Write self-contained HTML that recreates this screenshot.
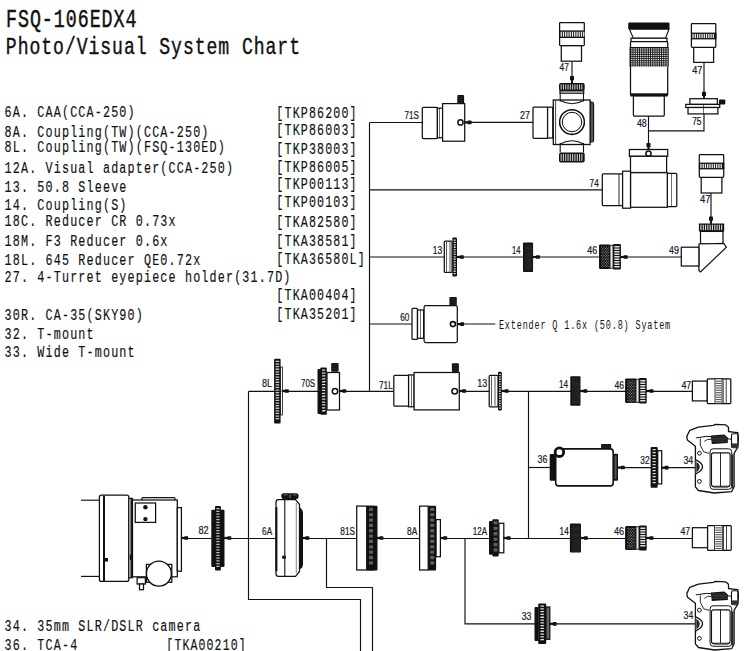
<!DOCTYPE html>
<html><head><meta charset="utf-8"><style>
html,body{margin:0;padding:0;background:#fff;}
body{width:747px;height:651px;overflow:hidden;position:relative;}
svg{position:absolute;left:0;top:0;}
.m{font-family:"Liberation Mono",monospace;fill:#111;}
.l{font-family:"Liberation Sans",sans-serif;fill:#1a1a2a;font-size:10px;}
</style></head><body>
<svg width="747" height="651" viewBox="0 0 747 651">

<text class="m" xml:space="preserve" font-size="24" letter-spacing="1.252" stroke="#111" stroke-width="0.45" transform="translate(5.98,27.2) scale(0.7636,1.1)">FSQ-106EDX4</text>
<text class="m" xml:space="preserve" font-size="24" letter-spacing="1.252" stroke="#111" stroke-width="0.4" transform="translate(5.87,54.3) scale(0.7544,1.02)">Photo/Visual System Chart</text>
<text class="m" xml:space="preserve" font-size="14.5" letter-spacing="1.416" stroke="#111" stroke-width="0.15" transform="translate(4.57,116.6) scale(0.8110,1.1)">6A. CAA(CCA-250)</text>
<text class="m" xml:space="preserve" font-size="14.5" letter-spacing="1.416" stroke="#111" stroke-width="0.15" transform="translate(4.57,136.5) scale(0.8110,1.1)">8A. Coupling(TW)(CCA-250)</text>
<text class="m" xml:space="preserve" font-size="14.5" letter-spacing="1.416" stroke="#111" stroke-width="0.15" transform="translate(4.57,152.3) scale(0.8110,1.1)">8L. Coupling(TW)(FSQ-130ED)</text>
<text class="m" xml:space="preserve" font-size="14.5" letter-spacing="1.416" stroke="#111" stroke-width="0.15" transform="translate(4.57,172.6) scale(0.8110,1.1)">12A. Visual adapter(CCA-250)</text>
<text class="m" xml:space="preserve" font-size="14.5" letter-spacing="1.416" stroke="#111" stroke-width="0.15" transform="translate(4.57,191.8) scale(0.8110,1.1)">13. 50.8 Sleeve</text>
<text class="m" xml:space="preserve" font-size="14.5" letter-spacing="1.416" stroke="#111" stroke-width="0.15" transform="translate(4.57,210.2) scale(0.8110,1.1)">14. Coupling(S)</text>
<text class="m" xml:space="preserve" font-size="14.5" letter-spacing="1.416" stroke="#111" stroke-width="0.15" transform="translate(4.57,225.9) scale(0.8110,1.1)">18C. Reducer CR 0.73x</text>
<text class="m" xml:space="preserve" font-size="14.5" letter-spacing="1.416" stroke="#111" stroke-width="0.15" transform="translate(4.57,246.1) scale(0.8110,1.1)">18M. F3 Reducer 0.6x</text>
<text class="m" xml:space="preserve" font-size="14.5" letter-spacing="1.416" stroke="#111" stroke-width="0.15" transform="translate(4.57,265.3) scale(0.8110,1.1)">18L. 645 Reducer QE0.72x</text>
<text class="m" xml:space="preserve" font-size="14.5" letter-spacing="1.416" stroke="#111" stroke-width="0.15" transform="translate(4.57,282.4) scale(0.8110,1.1)">27. 4-Turret eyepiece holder(31.7D)</text>
<text class="m" xml:space="preserve" font-size="14.5" letter-spacing="1.416" stroke="#111" stroke-width="0.15" transform="translate(4.57,319.7) scale(0.8110,1.1)">30R. CA-35(SKY90)</text>
<text class="m" xml:space="preserve" font-size="14.5" letter-spacing="1.416" stroke="#111" stroke-width="0.15" transform="translate(4.57,338.5) scale(0.8110,1.1)">32. T-mount</text>
<text class="m" xml:space="preserve" font-size="14.5" letter-spacing="1.416" stroke="#111" stroke-width="0.15" transform="translate(4.57,356.7) scale(0.8110,1.1)">33. Wide T-mount</text>
<text class="m" xml:space="preserve" font-size="14.5" letter-spacing="1.416" stroke="#111" stroke-width="0.15" transform="translate(4.57,630.6) scale(0.8110,1.1)">34. 35mm SLR/DSLR camera</text>
<text class="m" xml:space="preserve" font-size="14.5" letter-spacing="1.416" stroke="#111" stroke-width="0.15" transform="translate(4.57,649.8) scale(0.8110,1.1)">36. TCA-4</text>
<text class="m" xml:space="preserve" font-size="14.5" letter-spacing="1.416" stroke="#111" stroke-width="0.15" transform="translate(276.37,118.4) scale(0.8041,1.1)">[TKP86200]</text>
<text class="m" xml:space="preserve" font-size="14.5" letter-spacing="1.416" stroke="#111" stroke-width="0.15" transform="translate(276.37,135.4) scale(0.8041,1.1)">[TKP86003]</text>
<text class="m" xml:space="preserve" font-size="14.5" letter-spacing="1.416" stroke="#111" stroke-width="0.15" transform="translate(276.37,153.5) scale(0.8041,1.1)">[TKP38003]</text>
<text class="m" xml:space="preserve" font-size="14.5" letter-spacing="1.416" stroke="#111" stroke-width="0.15" transform="translate(276.37,171.9) scale(0.8041,1.1)">[TKP86005]</text>
<text class="m" xml:space="preserve" font-size="14.5" letter-spacing="1.416" stroke="#111" stroke-width="0.15" transform="translate(276.37,189.4) scale(0.8041,1.1)">[TKP00113]</text>
<text class="m" xml:space="preserve" font-size="14.5" letter-spacing="1.416" stroke="#111" stroke-width="0.15" transform="translate(276.37,206.9) scale(0.8041,1.1)">[TKP00103]</text>
<text class="m" xml:space="preserve" font-size="14.5" letter-spacing="1.416" stroke="#111" stroke-width="0.15" transform="translate(276.37,227) scale(0.8041,1.1)">[TKA82580]</text>
<text class="m" xml:space="preserve" font-size="14.5" letter-spacing="1.416" stroke="#111" stroke-width="0.15" transform="translate(276.37,245.5) scale(0.8041,1.1)">[TKA38581]</text>
<text class="m" xml:space="preserve" font-size="14.5" letter-spacing="1.416" stroke="#111" stroke-width="0.15" transform="translate(276.37,264.3) scale(0.8041,1.1)">[TKA36580L]</text>
<text class="m" xml:space="preserve" font-size="14.5" letter-spacing="1.416" stroke="#111" stroke-width="0.15" transform="translate(276.37,300.2) scale(0.8041,1.1)">[TKA00404]</text>
<text class="m" xml:space="preserve" font-size="14.5" letter-spacing="1.416" stroke="#111" stroke-width="0.15" transform="translate(276.37,319.2) scale(0.8041,1.1)">[TKA35201]</text>
<text class="m" xml:space="preserve" font-size="14.5" letter-spacing="1.416" stroke="#111" stroke-width="0.15" transform="translate(166.36,649.8) scale(0.7955,1.1)">[TKA00210]</text>
<text class="m" xml:space="preserve" font-size="12.2" letter-spacing="1.192" stroke="#111" stroke-width="0.0" transform="translate(498.92,329.1) scale(0.6983,1.05)">Extender Q 1.6x (50.8) Syatem</text>
<path d="M369.5,122.5 L369.5,391.4" fill="none" stroke="#111" stroke-width="1.15"/>
<path d="M369.5,122.5 L422.3,122.5" fill="none" stroke="#111" stroke-width="1.15"/>
<path d="M464.7,122.4 L533,122.4" fill="none" stroke="#111" stroke-width="1.15"/>
<path d="M572,61.2 L572,82" fill="none" stroke="#111" stroke-width="1.15"/>
<path d="M648.5,116 L648.5,149" fill="none" stroke="#111" stroke-width="1.15"/>
<path d="M648.5,130.8 L704,130.8 L704,113.9" fill="none" stroke="#111" stroke-width="1.15"/>
<path d="M704,62.4 L704,98.7" fill="none" stroke="#111" stroke-width="1.15"/>
<path d="M369.5,189.8 L602.3,189.8" fill="none" stroke="#111" stroke-width="1.15"/>
<path d="M711,193 L711,223.5" fill="none" stroke="#111" stroke-width="1.15"/>
<path d="M369.5,257 L444.3,257" fill="none" stroke="#111" stroke-width="1.15"/>
<path d="M457,257 L523,257" fill="none" stroke="#111" stroke-width="1.15"/>
<path d="M533,257 L599,257" fill="none" stroke="#111" stroke-width="1.15"/>
<path d="M620.9,257 L681.3,257" fill="none" stroke="#111" stroke-width="1.15"/>
<path d="M369.5,324 L412,324" fill="none" stroke="#111" stroke-width="1.15"/>
<path d="M457.3,324 L495.3,324" fill="none" stroke="#111" stroke-width="1.15"/>
<path d="M248.5,391.4 L393.8,391.4" fill="none" stroke="#111" stroke-width="1.15"/>
<path d="M459.3,391.4 L692.4,391.4" fill="none" stroke="#111" stroke-width="1.15"/>
<path d="M248.5,391.4 L248.5,599.5 L360.5,599.5 L360.5,652" fill="none" stroke="#111" stroke-width="1.15"/>
<path d="M528.5,391.4 L528.5,538.5" fill="none" stroke="#111" stroke-width="1.15"/>
<path d="M528.5,467.5 L549.7,467.5" fill="none" stroke="#111" stroke-width="1.15"/>
<path d="M618,467.6 L695,467.6" fill="none" stroke="#111" stroke-width="1.15"/>
<path d="M181.4,538.5 L692.4,538.5" fill="none" stroke="#111" stroke-width="1.15"/>
<path d="M326.5,538.5 L326.5,587.5 L372.5,587.5 L372.5,652" fill="none" stroke="#111" stroke-width="1.15"/>
<path d="M465,538.5 L465,623.8 L695,623.8" fill="none" stroke="#111" stroke-width="1.15"/>
<path d="M81,500.2 L99.4,500.2" fill="none" stroke="#111" stroke-width="1.15"/>
<path d="M81,576.4 L99.4,576.4" fill="none" stroke="#111" stroke-width="1.15"/>
<rect x="422.3" y="107.3" width="15.10" height="31.30" rx="1" fill="#fff" stroke="#111" stroke-width="1.25"/>
<rect x="437.4" y="108.2" width="5.20" height="29.60" rx="0" fill="#fff" stroke="#111" stroke-width="1.25"/>
<path d="M439.5,108.2 V137.8" stroke="#111" stroke-width="0.6" fill="none"/>
<rect x="442.6" y="103.6" width="22.10" height="37.60" rx="0" fill="#fff" stroke="#111" stroke-width="1.25"/>
<rect x="457.3" y="95" width="6.80" height="9.00" rx="1" fill="#111"/>
<rect x="458.10" y="96.50" width="5.20" height="0.6" fill="#333"/>
<rect x="458.10" y="98.30" width="5.20" height="0.6" fill="#333"/>
<rect x="458.10" y="100.10" width="5.20" height="0.6" fill="#333"/>
<rect x="458.10" y="101.90" width="5.20" height="0.6" fill="#333"/>
<circle cx="460.5" cy="122.4" r="2.6" fill="#fff" stroke="#111" stroke-width="1.5"/>
<rect x="464.40" y="121.30" width="3.8" height="2.2" fill="#111"/><rect x="467.60" y="120.55" width="3.9" height="3.7" rx="0.6" fill="#111"/>
<rect x="533" y="107" width="14.60" height="31.30" rx="1" fill="#fff" stroke="#111" stroke-width="1.25"/>
<rect x="547.6" y="107.2" width="5.20" height="30.80" rx="0" fill="#fff" stroke="#111" stroke-width="1.25"/>
<rect x="559" y="83" width="25.70" height="7.90" rx="2" fill="#111"/>
<rect x="560.60" y="84.40" width="1.1" height="5.10" fill="#c8c8c8"/>
<rect x="562.90" y="84.40" width="1.1" height="5.10" fill="#c8c8c8"/>
<rect x="565.20" y="84.40" width="1.1" height="5.10" fill="#c8c8c8"/>
<rect x="567.50" y="84.40" width="1.1" height="5.10" fill="#c8c8c8"/>
<rect x="569.80" y="84.40" width="1.1" height="5.10" fill="#c8c8c8"/>
<rect x="572.10" y="84.40" width="1.1" height="5.10" fill="#c8c8c8"/>
<rect x="574.40" y="84.40" width="1.1" height="5.10" fill="#c8c8c8"/>
<rect x="576.70" y="84.40" width="1.1" height="5.10" fill="#c8c8c8"/>
<rect x="579.00" y="84.40" width="1.1" height="5.10" fill="#c8c8c8"/>
<rect x="581.30" y="84.40" width="1.1" height="5.10" fill="#c8c8c8"/>
<rect x="560" y="90.9" width="23.70" height="2.30" rx="0" fill="#fff" stroke="#111" stroke-width="1.25"/>
<rect x="559" y="152.6" width="25.70" height="9.80" rx="2" fill="#111"/>
<rect x="560.60" y="154.00" width="1.1" height="7.00" fill="#c8c8c8"/>
<rect x="562.90" y="154.00" width="1.1" height="7.00" fill="#c8c8c8"/>
<rect x="565.20" y="154.00" width="1.1" height="7.00" fill="#c8c8c8"/>
<rect x="567.50" y="154.00" width="1.1" height="7.00" fill="#c8c8c8"/>
<rect x="569.80" y="154.00" width="1.1" height="7.00" fill="#c8c8c8"/>
<rect x="572.10" y="154.00" width="1.1" height="7.00" fill="#c8c8c8"/>
<rect x="574.40" y="154.00" width="1.1" height="7.00" fill="#c8c8c8"/>
<rect x="576.70" y="154.00" width="1.1" height="7.00" fill="#c8c8c8"/>
<rect x="579.00" y="154.00" width="1.1" height="7.00" fill="#c8c8c8"/>
<rect x="581.30" y="154.00" width="1.1" height="7.00" fill="#c8c8c8"/>
<path d="M590.1,102 H592 Q593.6,102 593.6,104 V140 Q593.6,142 592,142 H590.1 Z" fill="#555" stroke="#111" stroke-width="1.1"/>
<rect x="553.3" y="100" width="36.80" height="44.50" rx="0" fill="#fff" stroke="#111" stroke-width="1.3"/>
<path d="M555.6,100.5 V144" stroke="#111" stroke-width="0.8" fill="none"/>
<path d="M560.2,93.2 V101.5" stroke="#111" stroke-width="1.1" fill="none"/>
<path d="M583.5,93.2 V101.5" stroke="#111" stroke-width="1.1" fill="none"/>
<path d="M560.2,143 V152.6" stroke="#111" stroke-width="1.1" fill="none"/>
<path d="M583.5,143 V152.6" stroke="#111" stroke-width="1.1" fill="none"/>
<path d="M560.2,100.5 Q572,107 583.5,100.5" fill="none" stroke="#111" stroke-width="1.1"/>
<path d="M560.2,144 Q572,137.5 583.5,144" fill="none" stroke="#111" stroke-width="1.1"/>
<circle cx="572" cy="122" r="12.35" fill="#fff" stroke="#111" stroke-width="1.55"/>
<circle cx="572" cy="122" r="9.7" fill="#fff" stroke="#111" stroke-width="1.0"/>
<rect x="561.3" y="45.5" width="20.20" height="15.70" rx="0" fill="#fff" stroke="#111" stroke-width="1.25"/>
<rect x="559.6" y="22.5" width="24.70" height="23.00" rx="0.8" fill="#fff" stroke="#111" stroke-width="1.25"/>
<rect x="559.2" y="30.4" width="25.70" height="7.60" rx="0" fill="#111"/>
<rect x="560.60" y="31.70" width="1.3" height="5.00" fill="#f0f0f0"/>
<rect x="562.85" y="31.70" width="1.3" height="5.00" fill="#f0f0f0"/>
<rect x="565.10" y="31.70" width="1.3" height="5.00" fill="#f0f0f0"/>
<rect x="567.35" y="31.70" width="1.3" height="5.00" fill="#f0f0f0"/>
<rect x="569.60" y="31.70" width="1.3" height="5.00" fill="#f0f0f0"/>
<rect x="571.85" y="31.70" width="1.3" height="5.00" fill="#f0f0f0"/>
<rect x="574.10" y="31.70" width="1.3" height="5.00" fill="#f0f0f0"/>
<rect x="576.35" y="31.70" width="1.3" height="5.00" fill="#f0f0f0"/>
<rect x="578.60" y="31.70" width="1.3" height="5.00" fill="#f0f0f0"/>
<rect x="580.85" y="31.70" width="1.3" height="5.00" fill="#f0f0f0"/>
<rect x="583.10" y="31.70" width="1.3" height="5.00" fill="#f0f0f0"/>
<rect x="571.00" y="80.20" width="2.0" height="3.0" fill="#111"/><rect x="570.00" y="76.10" width="4" height="4.2" rx="0.6" fill="#111"/>
<rect x="628.2" y="22.4" width="41.30" height="6.80" rx="1" fill="#111"/>
<path d="M629.5,29.2 L633.4,38.2 H665.5 L669,29.2 Z" fill="#fff" stroke="#111" stroke-width="1.1"/>
<rect x="631" y="38.2" width="36.00" height="3.40" rx="0" fill="#fff" stroke="#111" stroke-width="1.25"/>
<rect x="633.4" y="95.5" width="30.90" height="20.60" rx="1" fill="#fff" stroke="#111" stroke-width="1.25"/>
<rect x="630.5" y="41.6" width="37.20" height="53.70" rx="1" fill="#fff" stroke="#111" stroke-width="1.25"/>
<rect x="629.6" y="47.0" width="39.00" height="19.60" rx="0" fill="#111"/>
<rect x="631.2" y="48.3" width="1.3" height="1.3" fill="#f2f2f2"/>
<rect x="633.4" y="48.3" width="1.3" height="1.3" fill="#f2f2f2"/>
<rect x="635.6" y="48.3" width="1.3" height="1.3" fill="#f2f2f2"/>
<rect x="637.8" y="48.3" width="1.3" height="1.3" fill="#f2f2f2"/>
<rect x="640.0" y="48.3" width="1.3" height="1.3" fill="#f2f2f2"/>
<rect x="642.2" y="48.3" width="1.3" height="1.3" fill="#f2f2f2"/>
<rect x="644.4" y="48.3" width="1.3" height="1.3" fill="#f2f2f2"/>
<rect x="646.6" y="48.3" width="1.3" height="1.3" fill="#f2f2f2"/>
<rect x="648.8" y="48.3" width="1.3" height="1.3" fill="#f2f2f2"/>
<rect x="651.0" y="48.3" width="1.3" height="1.3" fill="#f2f2f2"/>
<rect x="653.2" y="48.3" width="1.3" height="1.3" fill="#f2f2f2"/>
<rect x="655.4" y="48.3" width="1.3" height="1.3" fill="#f2f2f2"/>
<rect x="657.6" y="48.3" width="1.3" height="1.3" fill="#f2f2f2"/>
<rect x="659.8" y="48.3" width="1.3" height="1.3" fill="#f2f2f2"/>
<rect x="662.0" y="48.3" width="1.3" height="1.3" fill="#f2f2f2"/>
<rect x="664.2" y="48.3" width="1.3" height="1.3" fill="#f2f2f2"/>
<rect x="666.4" y="48.3" width="1.3" height="1.3" fill="#f2f2f2"/>
<rect x="631.2" y="50.4" width="1.3" height="1.3" fill="#f2f2f2"/>
<rect x="633.4" y="50.4" width="1.3" height="1.3" fill="#f2f2f2"/>
<rect x="635.6" y="50.4" width="1.3" height="1.3" fill="#f2f2f2"/>
<rect x="637.8" y="50.4" width="1.3" height="1.3" fill="#f2f2f2"/>
<rect x="640.0" y="50.4" width="1.3" height="1.3" fill="#f2f2f2"/>
<rect x="642.2" y="50.4" width="1.3" height="1.3" fill="#f2f2f2"/>
<rect x="644.4" y="50.4" width="1.3" height="1.3" fill="#f2f2f2"/>
<rect x="646.6" y="50.4" width="1.3" height="1.3" fill="#f2f2f2"/>
<rect x="648.8" y="50.4" width="1.3" height="1.3" fill="#f2f2f2"/>
<rect x="651.0" y="50.4" width="1.3" height="1.3" fill="#f2f2f2"/>
<rect x="653.2" y="50.4" width="1.3" height="1.3" fill="#f2f2f2"/>
<rect x="655.4" y="50.4" width="1.3" height="1.3" fill="#f2f2f2"/>
<rect x="657.6" y="50.4" width="1.3" height="1.3" fill="#f2f2f2"/>
<rect x="659.8" y="50.4" width="1.3" height="1.3" fill="#f2f2f2"/>
<rect x="662.0" y="50.4" width="1.3" height="1.3" fill="#f2f2f2"/>
<rect x="664.2" y="50.4" width="1.3" height="1.3" fill="#f2f2f2"/>
<rect x="666.4" y="50.4" width="1.3" height="1.3" fill="#f2f2f2"/>
<rect x="631.2" y="52.6" width="1.3" height="1.3" fill="#f2f2f2"/>
<rect x="633.4" y="52.6" width="1.3" height="1.3" fill="#f2f2f2"/>
<rect x="635.6" y="52.6" width="1.3" height="1.3" fill="#f2f2f2"/>
<rect x="637.8" y="52.6" width="1.3" height="1.3" fill="#f2f2f2"/>
<rect x="640.0" y="52.6" width="1.3" height="1.3" fill="#f2f2f2"/>
<rect x="642.2" y="52.6" width="1.3" height="1.3" fill="#f2f2f2"/>
<rect x="644.4" y="52.6" width="1.3" height="1.3" fill="#f2f2f2"/>
<rect x="646.6" y="52.6" width="1.3" height="1.3" fill="#f2f2f2"/>
<rect x="648.8" y="52.6" width="1.3" height="1.3" fill="#f2f2f2"/>
<rect x="651.0" y="52.6" width="1.3" height="1.3" fill="#f2f2f2"/>
<rect x="653.2" y="52.6" width="1.3" height="1.3" fill="#f2f2f2"/>
<rect x="655.4" y="52.6" width="1.3" height="1.3" fill="#f2f2f2"/>
<rect x="657.6" y="52.6" width="1.3" height="1.3" fill="#f2f2f2"/>
<rect x="659.8" y="52.6" width="1.3" height="1.3" fill="#f2f2f2"/>
<rect x="662.0" y="52.6" width="1.3" height="1.3" fill="#f2f2f2"/>
<rect x="664.2" y="52.6" width="1.3" height="1.3" fill="#f2f2f2"/>
<rect x="666.4" y="52.6" width="1.3" height="1.3" fill="#f2f2f2"/>
<rect x="631.2" y="54.8" width="1.3" height="1.3" fill="#f2f2f2"/>
<rect x="633.4" y="54.8" width="1.3" height="1.3" fill="#f2f2f2"/>
<rect x="635.6" y="54.8" width="1.3" height="1.3" fill="#f2f2f2"/>
<rect x="637.8" y="54.8" width="1.3" height="1.3" fill="#f2f2f2"/>
<rect x="640.0" y="54.8" width="1.3" height="1.3" fill="#f2f2f2"/>
<rect x="642.2" y="54.8" width="1.3" height="1.3" fill="#f2f2f2"/>
<rect x="644.4" y="54.8" width="1.3" height="1.3" fill="#f2f2f2"/>
<rect x="646.6" y="54.8" width="1.3" height="1.3" fill="#f2f2f2"/>
<rect x="648.8" y="54.8" width="1.3" height="1.3" fill="#f2f2f2"/>
<rect x="651.0" y="54.8" width="1.3" height="1.3" fill="#f2f2f2"/>
<rect x="653.2" y="54.8" width="1.3" height="1.3" fill="#f2f2f2"/>
<rect x="655.4" y="54.8" width="1.3" height="1.3" fill="#f2f2f2"/>
<rect x="657.6" y="54.8" width="1.3" height="1.3" fill="#f2f2f2"/>
<rect x="659.8" y="54.8" width="1.3" height="1.3" fill="#f2f2f2"/>
<rect x="662.0" y="54.8" width="1.3" height="1.3" fill="#f2f2f2"/>
<rect x="664.2" y="54.8" width="1.3" height="1.3" fill="#f2f2f2"/>
<rect x="666.4" y="54.8" width="1.3" height="1.3" fill="#f2f2f2"/>
<rect x="631.2" y="56.9" width="1.3" height="1.3" fill="#f2f2f2"/>
<rect x="633.4" y="56.9" width="1.3" height="1.3" fill="#f2f2f2"/>
<rect x="635.6" y="56.9" width="1.3" height="1.3" fill="#f2f2f2"/>
<rect x="637.8" y="56.9" width="1.3" height="1.3" fill="#f2f2f2"/>
<rect x="640.0" y="56.9" width="1.3" height="1.3" fill="#f2f2f2"/>
<rect x="642.2" y="56.9" width="1.3" height="1.3" fill="#f2f2f2"/>
<rect x="644.4" y="56.9" width="1.3" height="1.3" fill="#f2f2f2"/>
<rect x="646.6" y="56.9" width="1.3" height="1.3" fill="#f2f2f2"/>
<rect x="648.8" y="56.9" width="1.3" height="1.3" fill="#f2f2f2"/>
<rect x="651.0" y="56.9" width="1.3" height="1.3" fill="#f2f2f2"/>
<rect x="653.2" y="56.9" width="1.3" height="1.3" fill="#f2f2f2"/>
<rect x="655.4" y="56.9" width="1.3" height="1.3" fill="#f2f2f2"/>
<rect x="657.6" y="56.9" width="1.3" height="1.3" fill="#f2f2f2"/>
<rect x="659.8" y="56.9" width="1.3" height="1.3" fill="#f2f2f2"/>
<rect x="662.0" y="56.9" width="1.3" height="1.3" fill="#f2f2f2"/>
<rect x="664.2" y="56.9" width="1.3" height="1.3" fill="#f2f2f2"/>
<rect x="666.4" y="56.9" width="1.3" height="1.3" fill="#f2f2f2"/>
<rect x="631.2" y="59.0" width="1.3" height="1.3" fill="#f2f2f2"/>
<rect x="633.4" y="59.0" width="1.3" height="1.3" fill="#f2f2f2"/>
<rect x="635.6" y="59.0" width="1.3" height="1.3" fill="#f2f2f2"/>
<rect x="637.8" y="59.0" width="1.3" height="1.3" fill="#f2f2f2"/>
<rect x="640.0" y="59.0" width="1.3" height="1.3" fill="#f2f2f2"/>
<rect x="642.2" y="59.0" width="1.3" height="1.3" fill="#f2f2f2"/>
<rect x="644.4" y="59.0" width="1.3" height="1.3" fill="#f2f2f2"/>
<rect x="646.6" y="59.0" width="1.3" height="1.3" fill="#f2f2f2"/>
<rect x="648.8" y="59.0" width="1.3" height="1.3" fill="#f2f2f2"/>
<rect x="651.0" y="59.0" width="1.3" height="1.3" fill="#f2f2f2"/>
<rect x="653.2" y="59.0" width="1.3" height="1.3" fill="#f2f2f2"/>
<rect x="655.4" y="59.0" width="1.3" height="1.3" fill="#f2f2f2"/>
<rect x="657.6" y="59.0" width="1.3" height="1.3" fill="#f2f2f2"/>
<rect x="659.8" y="59.0" width="1.3" height="1.3" fill="#f2f2f2"/>
<rect x="662.0" y="59.0" width="1.3" height="1.3" fill="#f2f2f2"/>
<rect x="664.2" y="59.0" width="1.3" height="1.3" fill="#f2f2f2"/>
<rect x="666.4" y="59.0" width="1.3" height="1.3" fill="#f2f2f2"/>
<rect x="631.2" y="61.2" width="1.3" height="1.3" fill="#f2f2f2"/>
<rect x="633.4" y="61.2" width="1.3" height="1.3" fill="#f2f2f2"/>
<rect x="635.6" y="61.2" width="1.3" height="1.3" fill="#f2f2f2"/>
<rect x="637.8" y="61.2" width="1.3" height="1.3" fill="#f2f2f2"/>
<rect x="640.0" y="61.2" width="1.3" height="1.3" fill="#f2f2f2"/>
<rect x="642.2" y="61.2" width="1.3" height="1.3" fill="#f2f2f2"/>
<rect x="644.4" y="61.2" width="1.3" height="1.3" fill="#f2f2f2"/>
<rect x="646.6" y="61.2" width="1.3" height="1.3" fill="#f2f2f2"/>
<rect x="648.8" y="61.2" width="1.3" height="1.3" fill="#f2f2f2"/>
<rect x="651.0" y="61.2" width="1.3" height="1.3" fill="#f2f2f2"/>
<rect x="653.2" y="61.2" width="1.3" height="1.3" fill="#f2f2f2"/>
<rect x="655.4" y="61.2" width="1.3" height="1.3" fill="#f2f2f2"/>
<rect x="657.6" y="61.2" width="1.3" height="1.3" fill="#f2f2f2"/>
<rect x="659.8" y="61.2" width="1.3" height="1.3" fill="#f2f2f2"/>
<rect x="662.0" y="61.2" width="1.3" height="1.3" fill="#f2f2f2"/>
<rect x="664.2" y="61.2" width="1.3" height="1.3" fill="#f2f2f2"/>
<rect x="666.4" y="61.2" width="1.3" height="1.3" fill="#f2f2f2"/>
<rect x="631.2" y="63.3" width="1.3" height="1.3" fill="#f2f2f2"/>
<rect x="633.4" y="63.3" width="1.3" height="1.3" fill="#f2f2f2"/>
<rect x="635.6" y="63.3" width="1.3" height="1.3" fill="#f2f2f2"/>
<rect x="637.8" y="63.3" width="1.3" height="1.3" fill="#f2f2f2"/>
<rect x="640.0" y="63.3" width="1.3" height="1.3" fill="#f2f2f2"/>
<rect x="642.2" y="63.3" width="1.3" height="1.3" fill="#f2f2f2"/>
<rect x="644.4" y="63.3" width="1.3" height="1.3" fill="#f2f2f2"/>
<rect x="646.6" y="63.3" width="1.3" height="1.3" fill="#f2f2f2"/>
<rect x="648.8" y="63.3" width="1.3" height="1.3" fill="#f2f2f2"/>
<rect x="651.0" y="63.3" width="1.3" height="1.3" fill="#f2f2f2"/>
<rect x="653.2" y="63.3" width="1.3" height="1.3" fill="#f2f2f2"/>
<rect x="655.4" y="63.3" width="1.3" height="1.3" fill="#f2f2f2"/>
<rect x="657.6" y="63.3" width="1.3" height="1.3" fill="#f2f2f2"/>
<rect x="659.8" y="63.3" width="1.3" height="1.3" fill="#f2f2f2"/>
<rect x="662.0" y="63.3" width="1.3" height="1.3" fill="#f2f2f2"/>
<rect x="664.2" y="63.3" width="1.3" height="1.3" fill="#f2f2f2"/>
<rect x="666.4" y="63.3" width="1.3" height="1.3" fill="#f2f2f2"/>
<rect x="631.2" y="65.5" width="1.3" height="1.3" fill="#f2f2f2"/>
<rect x="633.4" y="65.5" width="1.3" height="1.3" fill="#f2f2f2"/>
<rect x="635.6" y="65.5" width="1.3" height="1.3" fill="#f2f2f2"/>
<rect x="637.8" y="65.5" width="1.3" height="1.3" fill="#f2f2f2"/>
<rect x="640.0" y="65.5" width="1.3" height="1.3" fill="#f2f2f2"/>
<rect x="642.2" y="65.5" width="1.3" height="1.3" fill="#f2f2f2"/>
<rect x="644.4" y="65.5" width="1.3" height="1.3" fill="#f2f2f2"/>
<rect x="646.6" y="65.5" width="1.3" height="1.3" fill="#f2f2f2"/>
<rect x="648.8" y="65.5" width="1.3" height="1.3" fill="#f2f2f2"/>
<rect x="651.0" y="65.5" width="1.3" height="1.3" fill="#f2f2f2"/>
<rect x="653.2" y="65.5" width="1.3" height="1.3" fill="#f2f2f2"/>
<rect x="655.4" y="65.5" width="1.3" height="1.3" fill="#f2f2f2"/>
<rect x="657.6" y="65.5" width="1.3" height="1.3" fill="#f2f2f2"/>
<rect x="659.8" y="65.5" width="1.3" height="1.3" fill="#f2f2f2"/>
<rect x="662.0" y="65.5" width="1.3" height="1.3" fill="#f2f2f2"/>
<rect x="664.2" y="65.5" width="1.3" height="1.3" fill="#f2f2f2"/>
<rect x="666.4" y="65.5" width="1.3" height="1.3" fill="#f2f2f2"/>
<rect x="630.5" y="93.3" width="37.20" height="3.20" rx="0" fill="#111"/>
<rect x="647.50" y="147.20" width="2.0" height="3.0" fill="#111"/><rect x="646.50" y="143.10" width="4" height="4.2" rx="0.6" fill="#111"/>
<rect x="693.7" y="47.3" width="19.90" height="15.10" rx="0" fill="#fff" stroke="#111" stroke-width="1.25"/>
<rect x="691.4" y="23.5" width="24.40" height="23.80" rx="0.8" fill="#fff" stroke="#111" stroke-width="1.25"/>
<rect x="691.0" y="32.6" width="25.40" height="6.80" rx="0" fill="#111"/>
<rect x="692.40" y="33.90" width="1.3" height="4.20" fill="#f0f0f0"/>
<rect x="694.65" y="33.90" width="1.3" height="4.20" fill="#f0f0f0"/>
<rect x="696.90" y="33.90" width="1.3" height="4.20" fill="#f0f0f0"/>
<rect x="699.15" y="33.90" width="1.3" height="4.20" fill="#f0f0f0"/>
<rect x="701.40" y="33.90" width="1.3" height="4.20" fill="#f0f0f0"/>
<rect x="703.65" y="33.90" width="1.3" height="4.20" fill="#f0f0f0"/>
<rect x="705.90" y="33.90" width="1.3" height="4.20" fill="#f0f0f0"/>
<rect x="708.15" y="33.90" width="1.3" height="4.20" fill="#f0f0f0"/>
<rect x="710.40" y="33.90" width="1.3" height="4.20" fill="#f0f0f0"/>
<rect x="712.65" y="33.90" width="1.3" height="4.20" fill="#f0f0f0"/>
<rect x="703.00" y="95.90" width="2.0" height="3.0" fill="#111"/><rect x="702.00" y="91.80" width="4" height="4.2" rx="0.6" fill="#111"/>
<rect x="689.9" y="98.7" width="27.50" height="5.70" rx="0" fill="#fff" stroke="#111" stroke-width="1.25"/>
<rect x="685.8" y="104.4" width="33.90" height="3.10" rx="0" fill="#fff" stroke="#111" stroke-width="1.25"/>
<rect x="688" y="107.5" width="29.90" height="6.40" rx="0" fill="#fff" stroke="#111" stroke-width="1.25"/>
<path d="M703.5,104.4 V113.9" stroke="#111" stroke-width="0.6" fill="none"/>
<rect x="719" y="99.5" width="6.30" height="4.90" rx="1" fill="#111"/>
<rect x="602.3" y="173.9" width="20.30" height="31.60" rx="1" fill="#fff" stroke="#111" stroke-width="1.25"/>
<path d="M619,174 V205.5" stroke="#111" stroke-width="0.9" fill="none"/>
<rect x="629.4" y="149.5" width="38.30" height="6.80" rx="0" fill="#fff" stroke="#111" stroke-width="1.25"/>
<rect x="630.5" y="156.3" width="36.10" height="16.20" rx="0" fill="#fff" stroke="#111" stroke-width="1.25"/>
<rect x="667.3" y="173.4" width="9.50" height="33.20" rx="1" fill="#fff" stroke="#111" stroke-width="1.25"/>
<path d="M671.5,173.4 V206.6" stroke="#111" stroke-width="0.6" fill="none"/>
<rect x="630.5" y="172.7" width="36.80" height="34.60" rx="0" fill="#fff" stroke="#111" stroke-width="1.25"/>
<rect x="622.6" y="171.2" width="7.90" height="37.00" rx="0" fill="#fff" stroke="#111" stroke-width="1.25"/>
<circle cx="648.5" cy="153.5" r="2.6" fill="#fff" stroke="#111" stroke-width="1.5"/>
<rect x="701.2" y="177.3" width="20.70" height="15.70" rx="0" fill="#fff" stroke="#111" stroke-width="1.25"/>
<rect x="699.3" y="154.7" width="24.40" height="22.60" rx="0.8" fill="#fff" stroke="#111" stroke-width="1.25"/>
<rect x="698.9" y="162.6" width="25.40" height="6.80" rx="0" fill="#111"/>
<rect x="700.30" y="163.90" width="1.3" height="4.20" fill="#f0f0f0"/>
<rect x="702.55" y="163.90" width="1.3" height="4.20" fill="#f0f0f0"/>
<rect x="704.80" y="163.90" width="1.3" height="4.20" fill="#f0f0f0"/>
<rect x="707.05" y="163.90" width="1.3" height="4.20" fill="#f0f0f0"/>
<rect x="709.30" y="163.90" width="1.3" height="4.20" fill="#f0f0f0"/>
<rect x="711.55" y="163.90" width="1.3" height="4.20" fill="#f0f0f0"/>
<rect x="713.80" y="163.90" width="1.3" height="4.20" fill="#f0f0f0"/>
<rect x="716.05" y="163.90" width="1.3" height="4.20" fill="#f0f0f0"/>
<rect x="718.30" y="163.90" width="1.3" height="4.20" fill="#f0f0f0"/>
<rect x="720.55" y="163.90" width="1.3" height="4.20" fill="#f0f0f0"/>
<rect x="710.00" y="220.70" width="2.0" height="3.0" fill="#111"/><rect x="709.00" y="216.60" width="4" height="4.2" rx="0.6" fill="#111"/>
<rect x="698.9" y="223.5" width="25.30" height="7.90" rx="0" fill="#111"/>
<rect x="700.40" y="224.70" width="1.1" height="5.50" fill="#ddd"/>
<rect x="702.70" y="224.70" width="1.1" height="5.50" fill="#ddd"/>
<rect x="705.00" y="224.70" width="1.1" height="5.50" fill="#ddd"/>
<rect x="707.30" y="224.70" width="1.1" height="5.50" fill="#ddd"/>
<rect x="709.60" y="224.70" width="1.1" height="5.50" fill="#ddd"/>
<rect x="711.90" y="224.70" width="1.1" height="5.50" fill="#ddd"/>
<rect x="714.20" y="224.70" width="1.1" height="5.50" fill="#ddd"/>
<rect x="716.50" y="224.70" width="1.1" height="5.50" fill="#ddd"/>
<rect x="718.80" y="224.70" width="1.1" height="5.50" fill="#ddd"/>
<rect x="721.10" y="224.70" width="1.1" height="5.50" fill="#ddd"/>
<rect x="700.5" y="231.4" width="22.50" height="12.50" rx="0" fill="#fff" stroke="#111" stroke-width="1.25"/>
<path d="M698.9,244 L723.7,243.4 L726.4,247.2 L700.5,272 L698.9,270.5 Z" fill="#fff" stroke="#111" stroke-width="1.2"/>
<rect x="681.3" y="247.2" width="17.60" height="18.80" rx="0" fill="#fff" stroke="#111" stroke-width="1.25"/>
<rect x="444.3" y="241" width="7.80" height="31.40" rx="1" fill="#fff" stroke="#111" stroke-width="1.25"/>
<path d="M446.5,242 V271.5" stroke="#111" stroke-width="0.7" fill="none"/>
<path d="M450,242 V271.5" stroke="#111" stroke-width="0.7" fill="none"/>
<rect x="452.4" y="237.4" width="4.60" height="39.00" rx="1" fill="#111"/>
<rect x="453.69" y="239.40" width="2.02" height="1.3" rx="0.20" fill="#ddd"/>
<rect x="453.69" y="241.80" width="2.02" height="1.3" rx="0.20" fill="#ddd"/>
<rect x="453.69" y="244.20" width="2.02" height="1.3" rx="0.20" fill="#ddd"/>
<rect x="453.69" y="246.60" width="2.02" height="1.3" rx="0.20" fill="#ddd"/>
<rect x="453.69" y="249.00" width="2.02" height="1.3" rx="0.20" fill="#ddd"/>
<rect x="453.69" y="251.40" width="2.02" height="1.3" rx="0.20" fill="#ddd"/>
<rect x="453.69" y="253.80" width="2.02" height="1.3" rx="0.20" fill="#ddd"/>
<rect x="453.69" y="256.20" width="2.02" height="1.3" rx="0.20" fill="#ddd"/>
<rect x="453.69" y="258.60" width="2.02" height="1.3" rx="0.20" fill="#ddd"/>
<rect x="453.69" y="261.00" width="2.02" height="1.3" rx="0.20" fill="#ddd"/>
<rect x="453.69" y="263.40" width="2.02" height="1.3" rx="0.20" fill="#ddd"/>
<rect x="453.69" y="265.80" width="2.02" height="1.3" rx="0.20" fill="#ddd"/>
<rect x="453.69" y="268.20" width="2.02" height="1.3" rx="0.20" fill="#ddd"/>
<rect x="453.69" y="270.60" width="2.02" height="1.3" rx="0.20" fill="#ddd"/>
<rect x="453.69" y="273.00" width="2.02" height="1.3" rx="0.20" fill="#ddd"/>
<rect x="456.70" y="255.90" width="3.8" height="2.2" fill="#111"/><rect x="459.90" y="255.15" width="3.9" height="3.7" rx="0.6" fill="#111"/>
<rect x="523" y="242.5" width="10.10" height="29.50" rx="1" fill="#111"/>
<rect x="524.60" y="244.50" width="0.9" height="0.9" fill="#444"/>
<rect x="526.60" y="244.50" width="0.9" height="0.9" fill="#444"/>
<rect x="528.60" y="244.50" width="0.9" height="0.9" fill="#444"/>
<rect x="530.60" y="244.50" width="0.9" height="0.9" fill="#444"/>
<rect x="525.60" y="245.70" width="0.9" height="0.9" fill="#444"/>
<rect x="527.60" y="245.70" width="0.9" height="0.9" fill="#444"/>
<rect x="529.60" y="245.70" width="0.9" height="0.9" fill="#444"/>
<rect x="531.60" y="245.70" width="0.9" height="0.9" fill="#444"/>
<rect x="524.60" y="246.90" width="0.9" height="0.9" fill="#444"/>
<rect x="526.60" y="246.90" width="0.9" height="0.9" fill="#444"/>
<rect x="528.60" y="246.90" width="0.9" height="0.9" fill="#444"/>
<rect x="530.60" y="246.90" width="0.9" height="0.9" fill="#444"/>
<rect x="525.60" y="248.10" width="0.9" height="0.9" fill="#444"/>
<rect x="527.60" y="248.10" width="0.9" height="0.9" fill="#444"/>
<rect x="529.60" y="248.10" width="0.9" height="0.9" fill="#444"/>
<rect x="531.60" y="248.10" width="0.9" height="0.9" fill="#444"/>
<rect x="524.60" y="249.30" width="0.9" height="0.9" fill="#444"/>
<rect x="526.60" y="249.30" width="0.9" height="0.9" fill="#444"/>
<rect x="528.60" y="249.30" width="0.9" height="0.9" fill="#444"/>
<rect x="530.60" y="249.30" width="0.9" height="0.9" fill="#444"/>
<rect x="525.60" y="250.50" width="0.9" height="0.9" fill="#444"/>
<rect x="527.60" y="250.50" width="0.9" height="0.9" fill="#444"/>
<rect x="529.60" y="250.50" width="0.9" height="0.9" fill="#444"/>
<rect x="531.60" y="250.50" width="0.9" height="0.9" fill="#444"/>
<rect x="524.60" y="251.70" width="0.9" height="0.9" fill="#444"/>
<rect x="526.60" y="251.70" width="0.9" height="0.9" fill="#444"/>
<rect x="528.60" y="251.70" width="0.9" height="0.9" fill="#444"/>
<rect x="530.60" y="251.70" width="0.9" height="0.9" fill="#444"/>
<rect x="525.60" y="252.90" width="0.9" height="0.9" fill="#444"/>
<rect x="527.60" y="252.90" width="0.9" height="0.9" fill="#444"/>
<rect x="529.60" y="252.90" width="0.9" height="0.9" fill="#444"/>
<rect x="531.60" y="252.90" width="0.9" height="0.9" fill="#444"/>
<rect x="524.60" y="254.10" width="0.9" height="0.9" fill="#444"/>
<rect x="526.60" y="254.10" width="0.9" height="0.9" fill="#444"/>
<rect x="528.60" y="254.10" width="0.9" height="0.9" fill="#444"/>
<rect x="530.60" y="254.10" width="0.9" height="0.9" fill="#444"/>
<rect x="525.60" y="255.30" width="0.9" height="0.9" fill="#444"/>
<rect x="527.60" y="255.30" width="0.9" height="0.9" fill="#444"/>
<rect x="529.60" y="255.30" width="0.9" height="0.9" fill="#444"/>
<rect x="531.60" y="255.30" width="0.9" height="0.9" fill="#444"/>
<rect x="524.60" y="256.50" width="0.9" height="0.9" fill="#444"/>
<rect x="526.60" y="256.50" width="0.9" height="0.9" fill="#444"/>
<rect x="528.60" y="256.50" width="0.9" height="0.9" fill="#444"/>
<rect x="530.60" y="256.50" width="0.9" height="0.9" fill="#444"/>
<rect x="525.60" y="257.70" width="0.9" height="0.9" fill="#444"/>
<rect x="527.60" y="257.70" width="0.9" height="0.9" fill="#444"/>
<rect x="529.60" y="257.70" width="0.9" height="0.9" fill="#444"/>
<rect x="531.60" y="257.70" width="0.9" height="0.9" fill="#444"/>
<rect x="524.60" y="258.90" width="0.9" height="0.9" fill="#444"/>
<rect x="526.60" y="258.90" width="0.9" height="0.9" fill="#444"/>
<rect x="528.60" y="258.90" width="0.9" height="0.9" fill="#444"/>
<rect x="530.60" y="258.90" width="0.9" height="0.9" fill="#444"/>
<rect x="525.60" y="260.10" width="0.9" height="0.9" fill="#444"/>
<rect x="527.60" y="260.10" width="0.9" height="0.9" fill="#444"/>
<rect x="529.60" y="260.10" width="0.9" height="0.9" fill="#444"/>
<rect x="531.60" y="260.10" width="0.9" height="0.9" fill="#444"/>
<rect x="524.60" y="261.30" width="0.9" height="0.9" fill="#444"/>
<rect x="526.60" y="261.30" width="0.9" height="0.9" fill="#444"/>
<rect x="528.60" y="261.30" width="0.9" height="0.9" fill="#444"/>
<rect x="530.60" y="261.30" width="0.9" height="0.9" fill="#444"/>
<rect x="525.60" y="262.50" width="0.9" height="0.9" fill="#444"/>
<rect x="527.60" y="262.50" width="0.9" height="0.9" fill="#444"/>
<rect x="529.60" y="262.50" width="0.9" height="0.9" fill="#444"/>
<rect x="531.60" y="262.50" width="0.9" height="0.9" fill="#444"/>
<rect x="524.60" y="263.70" width="0.9" height="0.9" fill="#444"/>
<rect x="526.60" y="263.70" width="0.9" height="0.9" fill="#444"/>
<rect x="528.60" y="263.70" width="0.9" height="0.9" fill="#444"/>
<rect x="530.60" y="263.70" width="0.9" height="0.9" fill="#444"/>
<rect x="525.60" y="264.90" width="0.9" height="0.9" fill="#444"/>
<rect x="527.60" y="264.90" width="0.9" height="0.9" fill="#444"/>
<rect x="529.60" y="264.90" width="0.9" height="0.9" fill="#444"/>
<rect x="531.60" y="264.90" width="0.9" height="0.9" fill="#444"/>
<rect x="524.60" y="266.10" width="0.9" height="0.9" fill="#444"/>
<rect x="526.60" y="266.10" width="0.9" height="0.9" fill="#444"/>
<rect x="528.60" y="266.10" width="0.9" height="0.9" fill="#444"/>
<rect x="530.60" y="266.10" width="0.9" height="0.9" fill="#444"/>
<rect x="525.60" y="267.30" width="0.9" height="0.9" fill="#444"/>
<rect x="527.60" y="267.30" width="0.9" height="0.9" fill="#444"/>
<rect x="529.60" y="267.30" width="0.9" height="0.9" fill="#444"/>
<rect x="531.60" y="267.30" width="0.9" height="0.9" fill="#444"/>
<rect x="524.60" y="268.50" width="0.9" height="0.9" fill="#444"/>
<rect x="526.60" y="268.50" width="0.9" height="0.9" fill="#444"/>
<rect x="528.60" y="268.50" width="0.9" height="0.9" fill="#444"/>
<rect x="530.60" y="268.50" width="0.9" height="0.9" fill="#444"/>
<rect x="525.60" y="269.70" width="0.9" height="0.9" fill="#444"/>
<rect x="527.60" y="269.70" width="0.9" height="0.9" fill="#444"/>
<rect x="529.60" y="269.70" width="0.9" height="0.9" fill="#444"/>
<rect x="531.60" y="269.70" width="0.9" height="0.9" fill="#444"/>
<rect x="532.80" y="255.90" width="3.8" height="2.2" fill="#111"/><rect x="536.00" y="255.15" width="3.9" height="3.7" rx="0.6" fill="#111"/>
<rect x="599.1" y="244.6" width="10.90" height="24.30" rx="1" fill="#111"/>
<rect x="601.30" y="246.60" width="0.9" height="0.9" fill="#aaa"/>
<rect x="603.70" y="246.60" width="0.9" height="0.9" fill="#aaa"/>
<rect x="606.10" y="246.60" width="0.9" height="0.9" fill="#aaa"/>
<rect x="608.50" y="246.60" width="0.9" height="0.9" fill="#aaa"/>
<rect x="602.50" y="248.00" width="0.9" height="0.9" fill="#aaa"/>
<rect x="604.90" y="248.00" width="0.9" height="0.9" fill="#aaa"/>
<rect x="607.30" y="248.00" width="0.9" height="0.9" fill="#aaa"/>
<rect x="601.30" y="249.40" width="0.9" height="0.9" fill="#aaa"/>
<rect x="603.70" y="249.40" width="0.9" height="0.9" fill="#aaa"/>
<rect x="606.10" y="249.40" width="0.9" height="0.9" fill="#aaa"/>
<rect x="608.50" y="249.40" width="0.9" height="0.9" fill="#aaa"/>
<rect x="602.50" y="250.80" width="0.9" height="0.9" fill="#aaa"/>
<rect x="604.90" y="250.80" width="0.9" height="0.9" fill="#aaa"/>
<rect x="607.30" y="250.80" width="0.9" height="0.9" fill="#aaa"/>
<rect x="601.30" y="252.20" width="0.9" height="0.9" fill="#aaa"/>
<rect x="603.70" y="252.20" width="0.9" height="0.9" fill="#aaa"/>
<rect x="606.10" y="252.20" width="0.9" height="0.9" fill="#aaa"/>
<rect x="608.50" y="252.20" width="0.9" height="0.9" fill="#aaa"/>
<rect x="602.50" y="253.60" width="0.9" height="0.9" fill="#aaa"/>
<rect x="604.90" y="253.60" width="0.9" height="0.9" fill="#aaa"/>
<rect x="607.30" y="253.60" width="0.9" height="0.9" fill="#aaa"/>
<rect x="601.30" y="255.00" width="0.9" height="0.9" fill="#aaa"/>
<rect x="603.70" y="255.00" width="0.9" height="0.9" fill="#aaa"/>
<rect x="606.10" y="255.00" width="0.9" height="0.9" fill="#aaa"/>
<rect x="608.50" y="255.00" width="0.9" height="0.9" fill="#aaa"/>
<rect x="602.50" y="256.40" width="0.9" height="0.9" fill="#aaa"/>
<rect x="604.90" y="256.40" width="0.9" height="0.9" fill="#aaa"/>
<rect x="607.30" y="256.40" width="0.9" height="0.9" fill="#aaa"/>
<rect x="601.30" y="257.80" width="0.9" height="0.9" fill="#aaa"/>
<rect x="603.70" y="257.80" width="0.9" height="0.9" fill="#aaa"/>
<rect x="606.10" y="257.80" width="0.9" height="0.9" fill="#aaa"/>
<rect x="608.50" y="257.80" width="0.9" height="0.9" fill="#aaa"/>
<rect x="602.50" y="259.20" width="0.9" height="0.9" fill="#aaa"/>
<rect x="604.90" y="259.20" width="0.9" height="0.9" fill="#aaa"/>
<rect x="607.30" y="259.20" width="0.9" height="0.9" fill="#aaa"/>
<rect x="601.30" y="260.60" width="0.9" height="0.9" fill="#aaa"/>
<rect x="603.70" y="260.60" width="0.9" height="0.9" fill="#aaa"/>
<rect x="606.10" y="260.60" width="0.9" height="0.9" fill="#aaa"/>
<rect x="608.50" y="260.60" width="0.9" height="0.9" fill="#aaa"/>
<rect x="602.50" y="262.00" width="0.9" height="0.9" fill="#aaa"/>
<rect x="604.90" y="262.00" width="0.9" height="0.9" fill="#aaa"/>
<rect x="607.30" y="262.00" width="0.9" height="0.9" fill="#aaa"/>
<rect x="601.30" y="263.40" width="0.9" height="0.9" fill="#aaa"/>
<rect x="603.70" y="263.40" width="0.9" height="0.9" fill="#aaa"/>
<rect x="606.10" y="263.40" width="0.9" height="0.9" fill="#aaa"/>
<rect x="608.50" y="263.40" width="0.9" height="0.9" fill="#aaa"/>
<rect x="602.50" y="264.80" width="0.9" height="0.9" fill="#aaa"/>
<rect x="604.90" y="264.80" width="0.9" height="0.9" fill="#aaa"/>
<rect x="607.30" y="264.80" width="0.9" height="0.9" fill="#aaa"/>
<rect x="601.30" y="266.20" width="0.9" height="0.9" fill="#aaa"/>
<rect x="603.70" y="266.20" width="0.9" height="0.9" fill="#aaa"/>
<rect x="606.10" y="266.20" width="0.9" height="0.9" fill="#aaa"/>
<rect x="608.50" y="266.20" width="0.9" height="0.9" fill="#aaa"/>
<rect x="599.1" y="245.6" width="1.60" height="22.30" rx="0" fill="#111"/>
<rect x="610.0" y="245.29999999999998" width="3.05" height="22.90" rx="0" fill="#e8e8e8" stroke="#111" stroke-width="0.9"/>
<rect x="613.052" y="244.1" width="7.85" height="25.30" rx="1" fill="#111"/>
<rect x="614.36" y="246.10" width="5.04" height="1.4" rx="0.21" fill="#e0e0e0"/>
<rect x="614.36" y="248.60" width="5.04" height="1.4" rx="0.21" fill="#e0e0e0"/>
<rect x="614.36" y="251.10" width="5.04" height="1.4" rx="0.21" fill="#e0e0e0"/>
<rect x="614.36" y="253.60" width="5.04" height="1.4" rx="0.21" fill="#e0e0e0"/>
<rect x="614.36" y="256.10" width="5.04" height="1.4" rx="0.21" fill="#e0e0e0"/>
<rect x="614.36" y="258.60" width="5.04" height="1.4" rx="0.21" fill="#e0e0e0"/>
<rect x="614.36" y="261.10" width="5.04" height="1.4" rx="0.21" fill="#e0e0e0"/>
<rect x="614.36" y="263.60" width="5.04" height="1.4" rx="0.21" fill="#e0e0e0"/>
<rect x="614.36" y="266.10" width="5.04" height="1.4" rx="0.21" fill="#e0e0e0"/>
<rect x="620.60" y="255.90" width="3.8" height="2.2" fill="#111"/><rect x="623.80" y="255.15" width="3.9" height="3.7" rx="0.6" fill="#111"/>
<rect x="412" y="308.4" width="5.50" height="31.00" rx="1" fill="#fff" stroke="#111" stroke-width="1.25"/>
<rect x="417.5" y="310" width="6.10" height="28.30" rx="0" fill="#fff" stroke="#111" stroke-width="1.25"/>
<path d="M420.5,310 V338.3" stroke="#111" stroke-width="0.6" fill="none"/>
<rect x="424.1" y="305.7" width="33.20" height="36.80" rx="1.5" fill="#fff" stroke="#111" stroke-width="1.25"/>
<rect x="449.4" y="297" width="7.40" height="8.70" rx="1" fill="#111"/>
<rect x="450.20" y="298.50" width="5.80" height="0.6" fill="#333"/>
<rect x="450.20" y="300.30" width="5.80" height="0.6" fill="#333"/>
<rect x="450.20" y="302.10" width="5.80" height="0.6" fill="#333"/>
<rect x="450.20" y="303.90" width="5.80" height="0.6" fill="#333"/>
<circle cx="452.9" cy="324.1" r="2.5" fill="#fff" stroke="#111" stroke-width="1.6"/>
<rect x="457.00" y="323.00" width="3.8" height="2.2" fill="#111"/><rect x="460.20" y="322.25" width="3.9" height="3.7" rx="0.6" fill="#111"/>
<rect x="280.5" y="367" width="2.00" height="48.00" rx="0" fill="#fff" stroke="#111" stroke-width="0.8"/>
<rect x="274.1" y="358.8" width="6.50" height="64.60" rx="1" fill="#111"/>
<rect x="275.60" y="360.80" width="3.60" height="1.3" rx="0.20" fill="#ccc"/>
<rect x="275.60" y="363.40" width="3.60" height="1.3" rx="0.20" fill="#ccc"/>
<rect x="275.60" y="366.00" width="3.60" height="1.3" rx="0.20" fill="#ccc"/>
<rect x="275.60" y="368.60" width="3.60" height="1.3" rx="0.20" fill="#ccc"/>
<rect x="275.60" y="371.20" width="3.60" height="1.3" rx="0.20" fill="#ccc"/>
<rect x="275.60" y="373.80" width="3.60" height="1.3" rx="0.20" fill="#ccc"/>
<rect x="275.60" y="376.40" width="3.60" height="1.3" rx="0.20" fill="#ccc"/>
<rect x="275.60" y="379.00" width="3.60" height="1.3" rx="0.20" fill="#ccc"/>
<rect x="275.60" y="381.60" width="3.60" height="1.3" rx="0.20" fill="#ccc"/>
<rect x="275.60" y="384.20" width="3.60" height="1.3" rx="0.20" fill="#ccc"/>
<rect x="275.60" y="386.80" width="3.60" height="1.3" rx="0.20" fill="#ccc"/>
<rect x="275.60" y="389.40" width="3.60" height="1.3" rx="0.20" fill="#ccc"/>
<rect x="275.60" y="392.00" width="3.60" height="1.3" rx="0.20" fill="#ccc"/>
<rect x="275.60" y="394.60" width="3.60" height="1.3" rx="0.20" fill="#ccc"/>
<rect x="275.60" y="397.20" width="3.60" height="1.3" rx="0.20" fill="#ccc"/>
<rect x="275.60" y="399.80" width="3.60" height="1.3" rx="0.20" fill="#ccc"/>
<rect x="275.60" y="402.40" width="3.60" height="1.3" rx="0.20" fill="#ccc"/>
<rect x="275.60" y="405.00" width="3.60" height="1.3" rx="0.20" fill="#ccc"/>
<rect x="275.60" y="407.60" width="3.60" height="1.3" rx="0.20" fill="#ccc"/>
<rect x="275.60" y="410.20" width="3.60" height="1.3" rx="0.20" fill="#ccc"/>
<rect x="275.60" y="412.80" width="3.60" height="1.3" rx="0.20" fill="#ccc"/>
<rect x="275.60" y="415.40" width="3.60" height="1.3" rx="0.20" fill="#ccc"/>
<rect x="275.60" y="418.00" width="3.60" height="1.3" rx="0.20" fill="#ccc"/>
<rect x="281.70" y="389.90" width="3.8" height="2.2" fill="#111"/><rect x="284.90" y="389.15" width="3.9" height="3.7" rx="0.6" fill="#111"/>
<rect x="327" y="372.5" width="12.50" height="37.50" rx="0" fill="#fff" stroke="#111" stroke-width="1.25"/>
<rect x="331.2" y="362.9" width="7.40" height="8.90" rx="1" fill="#111"/>
<rect x="332.00" y="364.40" width="5.80" height="0.6" fill="#333"/>
<rect x="332.00" y="366.20" width="5.80" height="0.6" fill="#333"/>
<rect x="332.00" y="368.00" width="5.80" height="0.6" fill="#333"/>
<rect x="332.00" y="369.80" width="5.80" height="0.6" fill="#333"/>
<rect x="317.5" y="369" width="3.50" height="45.00" rx="1" fill="#111"/>
<rect x="320.3" y="367.5" width="6.50" height="47.30" rx="1" fill="#111"/>
<rect x="322.00" y="369.50" width="3.30" height="1.3" rx="0.20" fill="#ddd"/>
<rect x="322.00" y="372.40" width="3.30" height="1.3" rx="0.20" fill="#ddd"/>
<rect x="322.00" y="375.30" width="3.30" height="1.3" rx="0.20" fill="#ddd"/>
<rect x="322.00" y="378.20" width="3.30" height="1.3" rx="0.20" fill="#ddd"/>
<rect x="322.00" y="381.10" width="3.30" height="1.3" rx="0.20" fill="#ddd"/>
<rect x="322.00" y="384.00" width="3.30" height="1.3" rx="0.20" fill="#ddd"/>
<rect x="322.00" y="386.90" width="3.30" height="1.3" rx="0.20" fill="#ddd"/>
<rect x="322.00" y="389.80" width="3.30" height="1.3" rx="0.20" fill="#ddd"/>
<rect x="322.00" y="392.70" width="3.30" height="1.3" rx="0.20" fill="#ddd"/>
<rect x="322.00" y="395.60" width="3.30" height="1.3" rx="0.20" fill="#ddd"/>
<rect x="322.00" y="398.50" width="3.30" height="1.3" rx="0.20" fill="#ddd"/>
<rect x="322.00" y="401.40" width="3.30" height="1.3" rx="0.20" fill="#ddd"/>
<rect x="322.00" y="404.30" width="3.30" height="1.3" rx="0.20" fill="#ddd"/>
<rect x="322.00" y="407.20" width="3.30" height="1.3" rx="0.20" fill="#ddd"/>
<rect x="322.00" y="410.10" width="3.30" height="1.3" rx="0.20" fill="#ddd"/>
<circle cx="335" cy="391.2" r="2.7" fill="#fff" stroke="#111" stroke-width="1.5"/>
<rect x="339.20" y="389.90" width="3.8" height="2.2" fill="#111"/><rect x="342.40" y="389.15" width="3.9" height="3.7" rx="0.6" fill="#111"/>
<rect x="393.8" y="375.4" width="14.80" height="30.80" rx="1" fill="#fff" stroke="#111" stroke-width="1.25"/>
<rect x="408.6" y="374.9" width="5.50" height="31.90" rx="0" fill="#fff" stroke="#111" stroke-width="1.25"/>
<path d="M411.5,374.9 V406.8" stroke="#111" stroke-width="0.6" fill="none"/>
<rect x="414.1" y="372.5" width="45.20" height="37.40" rx="0" fill="#fff" stroke="#111" stroke-width="1.25"/>
<rect x="451.9" y="363.3" width="7.00" height="8.80" rx="1" fill="#111"/>
<rect x="452.70" y="364.80" width="5.40" height="0.6" fill="#333"/>
<rect x="452.70" y="366.60" width="5.40" height="0.6" fill="#333"/>
<rect x="452.70" y="368.40" width="5.40" height="0.6" fill="#333"/>
<rect x="452.70" y="370.20" width="5.40" height="0.6" fill="#333"/>
<circle cx="454.7" cy="391.2" r="2.8" fill="#fff" stroke="#111" stroke-width="1.5"/>
<rect x="459.00" y="389.90" width="3.8" height="2.2" fill="#111"/><rect x="462.20" y="389.15" width="3.9" height="3.7" rx="0.6" fill="#111"/>
<rect x="489.2" y="375.4" width="8.80" height="31.40" rx="1" fill="#fff" stroke="#111" stroke-width="1.25"/>
<path d="M491.5,376.5 V405.5" stroke="#111" stroke-width="0.7" fill="none"/>
<path d="M495,376.5 V405.5" stroke="#111" stroke-width="0.7" fill="none"/>
<rect x="498" y="371.8" width="3.80" height="38.70" rx="1" fill="#111"/>
<rect x="499.06" y="373.80" width="1.67" height="1.3" rx="0.20" fill="#ddd"/>
<rect x="499.06" y="376.20" width="1.67" height="1.3" rx="0.20" fill="#ddd"/>
<rect x="499.06" y="378.60" width="1.67" height="1.3" rx="0.20" fill="#ddd"/>
<rect x="499.06" y="381.00" width="1.67" height="1.3" rx="0.20" fill="#ddd"/>
<rect x="499.06" y="383.40" width="1.67" height="1.3" rx="0.20" fill="#ddd"/>
<rect x="499.06" y="385.80" width="1.67" height="1.3" rx="0.20" fill="#ddd"/>
<rect x="499.06" y="388.20" width="1.67" height="1.3" rx="0.20" fill="#ddd"/>
<rect x="499.06" y="390.60" width="1.67" height="1.3" rx="0.20" fill="#ddd"/>
<rect x="499.06" y="393.00" width="1.67" height="1.3" rx="0.20" fill="#ddd"/>
<rect x="499.06" y="395.40" width="1.67" height="1.3" rx="0.20" fill="#ddd"/>
<rect x="499.06" y="397.80" width="1.67" height="1.3" rx="0.20" fill="#ddd"/>
<rect x="499.06" y="400.20" width="1.67" height="1.3" rx="0.20" fill="#ddd"/>
<rect x="499.06" y="402.60" width="1.67" height="1.3" rx="0.20" fill="#ddd"/>
<rect x="499.06" y="405.00" width="1.67" height="1.3" rx="0.20" fill="#ddd"/>
<rect x="499.06" y="407.40" width="1.67" height="1.3" rx="0.20" fill="#ddd"/>
<rect x="501.50" y="389.90" width="3.8" height="2.2" fill="#111"/><rect x="504.70" y="389.15" width="3.9" height="3.7" rx="0.6" fill="#111"/>
<rect x="570.3" y="376.2" width="10.20" height="29.50" rx="1" fill="#111"/>
<rect x="571.90" y="378.20" width="0.9" height="0.9" fill="#444"/>
<rect x="573.90" y="378.20" width="0.9" height="0.9" fill="#444"/>
<rect x="575.90" y="378.20" width="0.9" height="0.9" fill="#444"/>
<rect x="577.90" y="378.20" width="0.9" height="0.9" fill="#444"/>
<rect x="572.90" y="379.40" width="0.9" height="0.9" fill="#444"/>
<rect x="574.90" y="379.40" width="0.9" height="0.9" fill="#444"/>
<rect x="576.90" y="379.40" width="0.9" height="0.9" fill="#444"/>
<rect x="578.90" y="379.40" width="0.9" height="0.9" fill="#444"/>
<rect x="571.90" y="380.60" width="0.9" height="0.9" fill="#444"/>
<rect x="573.90" y="380.60" width="0.9" height="0.9" fill="#444"/>
<rect x="575.90" y="380.60" width="0.9" height="0.9" fill="#444"/>
<rect x="577.90" y="380.60" width="0.9" height="0.9" fill="#444"/>
<rect x="572.90" y="381.80" width="0.9" height="0.9" fill="#444"/>
<rect x="574.90" y="381.80" width="0.9" height="0.9" fill="#444"/>
<rect x="576.90" y="381.80" width="0.9" height="0.9" fill="#444"/>
<rect x="578.90" y="381.80" width="0.9" height="0.9" fill="#444"/>
<rect x="571.90" y="383.00" width="0.9" height="0.9" fill="#444"/>
<rect x="573.90" y="383.00" width="0.9" height="0.9" fill="#444"/>
<rect x="575.90" y="383.00" width="0.9" height="0.9" fill="#444"/>
<rect x="577.90" y="383.00" width="0.9" height="0.9" fill="#444"/>
<rect x="572.90" y="384.20" width="0.9" height="0.9" fill="#444"/>
<rect x="574.90" y="384.20" width="0.9" height="0.9" fill="#444"/>
<rect x="576.90" y="384.20" width="0.9" height="0.9" fill="#444"/>
<rect x="578.90" y="384.20" width="0.9" height="0.9" fill="#444"/>
<rect x="571.90" y="385.40" width="0.9" height="0.9" fill="#444"/>
<rect x="573.90" y="385.40" width="0.9" height="0.9" fill="#444"/>
<rect x="575.90" y="385.40" width="0.9" height="0.9" fill="#444"/>
<rect x="577.90" y="385.40" width="0.9" height="0.9" fill="#444"/>
<rect x="572.90" y="386.60" width="0.9" height="0.9" fill="#444"/>
<rect x="574.90" y="386.60" width="0.9" height="0.9" fill="#444"/>
<rect x="576.90" y="386.60" width="0.9" height="0.9" fill="#444"/>
<rect x="578.90" y="386.60" width="0.9" height="0.9" fill="#444"/>
<rect x="571.90" y="387.80" width="0.9" height="0.9" fill="#444"/>
<rect x="573.90" y="387.80" width="0.9" height="0.9" fill="#444"/>
<rect x="575.90" y="387.80" width="0.9" height="0.9" fill="#444"/>
<rect x="577.90" y="387.80" width="0.9" height="0.9" fill="#444"/>
<rect x="572.90" y="389.00" width="0.9" height="0.9" fill="#444"/>
<rect x="574.90" y="389.00" width="0.9" height="0.9" fill="#444"/>
<rect x="576.90" y="389.00" width="0.9" height="0.9" fill="#444"/>
<rect x="578.90" y="389.00" width="0.9" height="0.9" fill="#444"/>
<rect x="571.90" y="390.20" width="0.9" height="0.9" fill="#444"/>
<rect x="573.90" y="390.20" width="0.9" height="0.9" fill="#444"/>
<rect x="575.90" y="390.20" width="0.9" height="0.9" fill="#444"/>
<rect x="577.90" y="390.20" width="0.9" height="0.9" fill="#444"/>
<rect x="572.90" y="391.40" width="0.9" height="0.9" fill="#444"/>
<rect x="574.90" y="391.40" width="0.9" height="0.9" fill="#444"/>
<rect x="576.90" y="391.40" width="0.9" height="0.9" fill="#444"/>
<rect x="578.90" y="391.40" width="0.9" height="0.9" fill="#444"/>
<rect x="571.90" y="392.60" width="0.9" height="0.9" fill="#444"/>
<rect x="573.90" y="392.60" width="0.9" height="0.9" fill="#444"/>
<rect x="575.90" y="392.60" width="0.9" height="0.9" fill="#444"/>
<rect x="577.90" y="392.60" width="0.9" height="0.9" fill="#444"/>
<rect x="572.90" y="393.80" width="0.9" height="0.9" fill="#444"/>
<rect x="574.90" y="393.80" width="0.9" height="0.9" fill="#444"/>
<rect x="576.90" y="393.80" width="0.9" height="0.9" fill="#444"/>
<rect x="578.90" y="393.80" width="0.9" height="0.9" fill="#444"/>
<rect x="571.90" y="395.00" width="0.9" height="0.9" fill="#444"/>
<rect x="573.90" y="395.00" width="0.9" height="0.9" fill="#444"/>
<rect x="575.90" y="395.00" width="0.9" height="0.9" fill="#444"/>
<rect x="577.90" y="395.00" width="0.9" height="0.9" fill="#444"/>
<rect x="572.90" y="396.20" width="0.9" height="0.9" fill="#444"/>
<rect x="574.90" y="396.20" width="0.9" height="0.9" fill="#444"/>
<rect x="576.90" y="396.20" width="0.9" height="0.9" fill="#444"/>
<rect x="578.90" y="396.20" width="0.9" height="0.9" fill="#444"/>
<rect x="571.90" y="397.40" width="0.9" height="0.9" fill="#444"/>
<rect x="573.90" y="397.40" width="0.9" height="0.9" fill="#444"/>
<rect x="575.90" y="397.40" width="0.9" height="0.9" fill="#444"/>
<rect x="577.90" y="397.40" width="0.9" height="0.9" fill="#444"/>
<rect x="572.90" y="398.60" width="0.9" height="0.9" fill="#444"/>
<rect x="574.90" y="398.60" width="0.9" height="0.9" fill="#444"/>
<rect x="576.90" y="398.60" width="0.9" height="0.9" fill="#444"/>
<rect x="578.90" y="398.60" width="0.9" height="0.9" fill="#444"/>
<rect x="571.90" y="399.80" width="0.9" height="0.9" fill="#444"/>
<rect x="573.90" y="399.80" width="0.9" height="0.9" fill="#444"/>
<rect x="575.90" y="399.80" width="0.9" height="0.9" fill="#444"/>
<rect x="577.90" y="399.80" width="0.9" height="0.9" fill="#444"/>
<rect x="572.90" y="401.00" width="0.9" height="0.9" fill="#444"/>
<rect x="574.90" y="401.00" width="0.9" height="0.9" fill="#444"/>
<rect x="576.90" y="401.00" width="0.9" height="0.9" fill="#444"/>
<rect x="578.90" y="401.00" width="0.9" height="0.9" fill="#444"/>
<rect x="571.90" y="402.20" width="0.9" height="0.9" fill="#444"/>
<rect x="573.90" y="402.20" width="0.9" height="0.9" fill="#444"/>
<rect x="575.90" y="402.20" width="0.9" height="0.9" fill="#444"/>
<rect x="577.90" y="402.20" width="0.9" height="0.9" fill="#444"/>
<rect x="572.90" y="403.40" width="0.9" height="0.9" fill="#444"/>
<rect x="574.90" y="403.40" width="0.9" height="0.9" fill="#444"/>
<rect x="576.90" y="403.40" width="0.9" height="0.9" fill="#444"/>
<rect x="578.90" y="403.40" width="0.9" height="0.9" fill="#444"/>
<rect x="580.20" y="389.90" width="3.8" height="2.2" fill="#111"/><rect x="583.40" y="389.15" width="3.9" height="3.7" rx="0.6" fill="#111"/>
<rect x="625.3" y="378.5" width="10.70" height="24.60" rx="1" fill="#111"/>
<rect x="627.50" y="380.50" width="0.9" height="0.9" fill="#aaa"/>
<rect x="629.90" y="380.50" width="0.9" height="0.9" fill="#aaa"/>
<rect x="632.30" y="380.50" width="0.9" height="0.9" fill="#aaa"/>
<rect x="634.70" y="380.50" width="0.9" height="0.9" fill="#aaa"/>
<rect x="628.70" y="381.90" width="0.9" height="0.9" fill="#aaa"/>
<rect x="631.10" y="381.90" width="0.9" height="0.9" fill="#aaa"/>
<rect x="633.50" y="381.90" width="0.9" height="0.9" fill="#aaa"/>
<rect x="627.50" y="383.30" width="0.9" height="0.9" fill="#aaa"/>
<rect x="629.90" y="383.30" width="0.9" height="0.9" fill="#aaa"/>
<rect x="632.30" y="383.30" width="0.9" height="0.9" fill="#aaa"/>
<rect x="634.70" y="383.30" width="0.9" height="0.9" fill="#aaa"/>
<rect x="628.70" y="384.70" width="0.9" height="0.9" fill="#aaa"/>
<rect x="631.10" y="384.70" width="0.9" height="0.9" fill="#aaa"/>
<rect x="633.50" y="384.70" width="0.9" height="0.9" fill="#aaa"/>
<rect x="627.50" y="386.10" width="0.9" height="0.9" fill="#aaa"/>
<rect x="629.90" y="386.10" width="0.9" height="0.9" fill="#aaa"/>
<rect x="632.30" y="386.10" width="0.9" height="0.9" fill="#aaa"/>
<rect x="634.70" y="386.10" width="0.9" height="0.9" fill="#aaa"/>
<rect x="628.70" y="387.50" width="0.9" height="0.9" fill="#aaa"/>
<rect x="631.10" y="387.50" width="0.9" height="0.9" fill="#aaa"/>
<rect x="633.50" y="387.50" width="0.9" height="0.9" fill="#aaa"/>
<rect x="627.50" y="388.90" width="0.9" height="0.9" fill="#aaa"/>
<rect x="629.90" y="388.90" width="0.9" height="0.9" fill="#aaa"/>
<rect x="632.30" y="388.90" width="0.9" height="0.9" fill="#aaa"/>
<rect x="634.70" y="388.90" width="0.9" height="0.9" fill="#aaa"/>
<rect x="628.70" y="390.30" width="0.9" height="0.9" fill="#aaa"/>
<rect x="631.10" y="390.30" width="0.9" height="0.9" fill="#aaa"/>
<rect x="633.50" y="390.30" width="0.9" height="0.9" fill="#aaa"/>
<rect x="627.50" y="391.70" width="0.9" height="0.9" fill="#aaa"/>
<rect x="629.90" y="391.70" width="0.9" height="0.9" fill="#aaa"/>
<rect x="632.30" y="391.70" width="0.9" height="0.9" fill="#aaa"/>
<rect x="634.70" y="391.70" width="0.9" height="0.9" fill="#aaa"/>
<rect x="628.70" y="393.10" width="0.9" height="0.9" fill="#aaa"/>
<rect x="631.10" y="393.10" width="0.9" height="0.9" fill="#aaa"/>
<rect x="633.50" y="393.10" width="0.9" height="0.9" fill="#aaa"/>
<rect x="627.50" y="394.50" width="0.9" height="0.9" fill="#aaa"/>
<rect x="629.90" y="394.50" width="0.9" height="0.9" fill="#aaa"/>
<rect x="632.30" y="394.50" width="0.9" height="0.9" fill="#aaa"/>
<rect x="634.70" y="394.50" width="0.9" height="0.9" fill="#aaa"/>
<rect x="628.70" y="395.90" width="0.9" height="0.9" fill="#aaa"/>
<rect x="631.10" y="395.90" width="0.9" height="0.9" fill="#aaa"/>
<rect x="633.50" y="395.90" width="0.9" height="0.9" fill="#aaa"/>
<rect x="627.50" y="397.30" width="0.9" height="0.9" fill="#aaa"/>
<rect x="629.90" y="397.30" width="0.9" height="0.9" fill="#aaa"/>
<rect x="632.30" y="397.30" width="0.9" height="0.9" fill="#aaa"/>
<rect x="634.70" y="397.30" width="0.9" height="0.9" fill="#aaa"/>
<rect x="628.70" y="398.70" width="0.9" height="0.9" fill="#aaa"/>
<rect x="631.10" y="398.70" width="0.9" height="0.9" fill="#aaa"/>
<rect x="633.50" y="398.70" width="0.9" height="0.9" fill="#aaa"/>
<rect x="627.50" y="400.10" width="0.9" height="0.9" fill="#aaa"/>
<rect x="629.90" y="400.10" width="0.9" height="0.9" fill="#aaa"/>
<rect x="632.30" y="400.10" width="0.9" height="0.9" fill="#aaa"/>
<rect x="634.70" y="400.10" width="0.9" height="0.9" fill="#aaa"/>
<rect x="628.70" y="401.50" width="0.9" height="0.9" fill="#aaa"/>
<rect x="631.10" y="401.50" width="0.9" height="0.9" fill="#aaa"/>
<rect x="633.50" y="401.50" width="0.9" height="0.9" fill="#aaa"/>
<rect x="625.3" y="379.5" width="1.60" height="22.60" rx="0" fill="#111"/>
<rect x="636.0" y="379.2" width="3.00" height="23.20" rx="0" fill="#e8e8e8" stroke="#111" stroke-width="0.9"/>
<rect x="638.996" y="378" width="7.70" height="25.60" rx="1" fill="#111"/>
<rect x="640.28" y="380.00" width="4.92" height="1.4" rx="0.21" fill="#e0e0e0"/>
<rect x="640.28" y="382.50" width="4.92" height="1.4" rx="0.21" fill="#e0e0e0"/>
<rect x="640.28" y="385.00" width="4.92" height="1.4" rx="0.21" fill="#e0e0e0"/>
<rect x="640.28" y="387.50" width="4.92" height="1.4" rx="0.21" fill="#e0e0e0"/>
<rect x="640.28" y="390.00" width="4.92" height="1.4" rx="0.21" fill="#e0e0e0"/>
<rect x="640.28" y="392.50" width="4.92" height="1.4" rx="0.21" fill="#e0e0e0"/>
<rect x="640.28" y="395.00" width="4.92" height="1.4" rx="0.21" fill="#e0e0e0"/>
<rect x="640.28" y="397.50" width="4.92" height="1.4" rx="0.21" fill="#e0e0e0"/>
<rect x="640.28" y="400.00" width="4.92" height="1.4" rx="0.21" fill="#e0e0e0"/>
<rect x="646.40" y="389.90" width="3.8" height="2.2" fill="#111"/><rect x="649.60" y="389.15" width="3.9" height="3.7" rx="0.6" fill="#111"/>
<rect x="692.4" y="381.1" width="14.90" height="19.80" rx="0" fill="#fff" stroke="#111" stroke-width="1.25"/>
<rect x="707.3" y="378.8" width="23.50" height="24.80" rx="0.8" fill="#fff" stroke="#111" stroke-width="1.25"/>
<rect x="715" y="378.8" width="7.00" height="24.80" fill="#fff" stroke="#111" stroke-width="0.8"/>
<rect x="715.60" y="380.60" width="5.80" height="1.1" fill="#555"/>
<rect x="715.60" y="382.90" width="5.80" height="1.1" fill="#555"/>
<rect x="715.60" y="385.20" width="5.80" height="1.1" fill="#555"/>
<rect x="715.60" y="387.50" width="5.80" height="1.1" fill="#555"/>
<rect x="715.60" y="389.80" width="5.80" height="1.1" fill="#555"/>
<rect x="715.60" y="392.10" width="5.80" height="1.1" fill="#555"/>
<rect x="715.60" y="394.40" width="5.80" height="1.1" fill="#555"/>
<rect x="715.60" y="396.70" width="5.80" height="1.1" fill="#555"/>
<rect x="715.60" y="399.00" width="5.80" height="1.1" fill="#555"/>
<rect x="715.60" y="401.30" width="5.80" height="1.1" fill="#555"/>
<path d="M723.2,378.8 V403.6" stroke="#111" stroke-width="0.8" fill="none"/>
<path d="M726.2,378.8 V403.6" stroke="#111" stroke-width="0.8" fill="none"/>
<rect x="549.7" y="454" width="6.00" height="26.70" rx="1" fill="#111"/>
<rect x="555.7" y="448.9" width="57.50" height="37.00" rx="3" fill="#fff" stroke="#111" stroke-width="1.6"/>
<rect x="613.2" y="453.7" width="4.80" height="27.00" rx="1" fill="#111"/>
<rect x="614.6" y="455.5" width="2.00" height="23.50" rx="0" fill="#555"/>
<rect x="601.1" y="444.1" width="10.10" height="4.80" rx="1" fill="#111"/>
<rect x="601.90" y="445.60" width="8.50" height="0.6" fill="#333"/>
<rect x="601.90" y="447.40" width="8.50" height="0.6" fill="#333"/>
<circle cx="559.4" cy="452.2" r="4.3" fill="#fff" stroke="#111" stroke-width="2.8"/>
<rect x="617.70" y="466.40" width="3.8" height="2.2" fill="#111"/><rect x="620.90" y="465.65" width="3.9" height="3.7" rx="0.6" fill="#111"/>
<rect x="657.7" y="450.7" width="4.00" height="33.20" rx="0" fill="#fff" stroke="#111" stroke-width="1.25"/>
<rect x="650.6" y="447" width="7.10" height="40.80" rx="1" fill="#111"/>
<rect x="652.59" y="449.00" width="3.12" height="1.3" rx="0.20" fill="#ddd"/>
<rect x="652.59" y="452.00" width="3.12" height="1.3" rx="0.20" fill="#ddd"/>
<rect x="652.59" y="455.00" width="3.12" height="1.3" rx="0.20" fill="#ddd"/>
<rect x="652.59" y="458.00" width="3.12" height="1.3" rx="0.20" fill="#ddd"/>
<rect x="652.59" y="461.00" width="3.12" height="1.3" rx="0.20" fill="#ddd"/>
<rect x="652.59" y="464.00" width="3.12" height="1.3" rx="0.20" fill="#ddd"/>
<rect x="652.59" y="467.00" width="3.12" height="1.3" rx="0.20" fill="#ddd"/>
<rect x="652.59" y="470.00" width="3.12" height="1.3" rx="0.20" fill="#ddd"/>
<rect x="652.59" y="473.00" width="3.12" height="1.3" rx="0.20" fill="#ddd"/>
<rect x="652.59" y="476.00" width="3.12" height="1.3" rx="0.20" fill="#ddd"/>
<rect x="652.59" y="479.00" width="3.12" height="1.3" rx="0.20" fill="#ddd"/>
<rect x="652.59" y="482.00" width="3.12" height="1.3" rx="0.20" fill="#ddd"/>
<rect x="661.40" y="466.60" width="3.8" height="2.2" fill="#111"/><rect x="664.60" y="465.85" width="3.9" height="3.7" rx="0.6" fill="#111"/>
<rect x="211.3" y="509.8" width="13.20" height="57.10" rx="1" fill="#111"/>
<rect x="215" y="505.9" width="5.90" height="64.70" rx="1" fill="#111"/>
<rect x="216.30" y="507.90" width="3.30" height="1.3" rx="0.20" fill="#bbb"/>
<rect x="216.30" y="510.65" width="3.30" height="1.3" rx="0.20" fill="#bbb"/>
<rect x="216.30" y="513.40" width="3.30" height="1.3" rx="0.20" fill="#bbb"/>
<rect x="216.30" y="516.15" width="3.30" height="1.3" rx="0.20" fill="#bbb"/>
<rect x="216.30" y="518.90" width="3.30" height="1.3" rx="0.20" fill="#bbb"/>
<rect x="216.30" y="521.65" width="3.30" height="1.3" rx="0.20" fill="#bbb"/>
<rect x="216.30" y="524.40" width="3.30" height="1.3" rx="0.20" fill="#bbb"/>
<rect x="216.30" y="527.15" width="3.30" height="1.3" rx="0.20" fill="#bbb"/>
<rect x="216.30" y="529.90" width="3.30" height="1.3" rx="0.20" fill="#bbb"/>
<rect x="216.30" y="532.65" width="3.30" height="1.3" rx="0.20" fill="#bbb"/>
<rect x="216.30" y="535.40" width="3.30" height="1.3" rx="0.20" fill="#bbb"/>
<rect x="216.30" y="538.15" width="3.30" height="1.3" rx="0.20" fill="#bbb"/>
<rect x="216.30" y="540.90" width="3.30" height="1.3" rx="0.20" fill="#bbb"/>
<rect x="216.30" y="543.65" width="3.30" height="1.3" rx="0.20" fill="#bbb"/>
<rect x="216.30" y="546.40" width="3.30" height="1.3" rx="0.20" fill="#bbb"/>
<rect x="216.30" y="549.15" width="3.30" height="1.3" rx="0.20" fill="#bbb"/>
<rect x="216.30" y="551.90" width="3.30" height="1.3" rx="0.20" fill="#bbb"/>
<rect x="216.30" y="554.65" width="3.30" height="1.3" rx="0.20" fill="#bbb"/>
<rect x="216.30" y="557.40" width="3.30" height="1.3" rx="0.20" fill="#bbb"/>
<rect x="216.30" y="560.15" width="3.30" height="1.3" rx="0.20" fill="#bbb"/>
<rect x="216.30" y="562.90" width="3.30" height="1.3" rx="0.20" fill="#bbb"/>
<rect x="216.30" y="565.65" width="3.30" height="1.3" rx="0.20" fill="#bbb"/>
<rect x="224.20" y="536.90" width="3.8" height="2.2" fill="#111"/><rect x="227.40" y="536.15" width="3.9" height="3.7" rx="0.6" fill="#111"/>
<rect x="181.10" y="536.90" width="3.8" height="2.2" fill="#111"/><rect x="184.30" y="536.15" width="3.9" height="3.7" rx="0.6" fill="#111"/>
<path d="M299.5,507.5 Q303,509 303,513 V564 Q303,568 299.5,569.5 Z" fill="#111"/>
<path d="M278.5,499.7 H295.5 L299.5,504.5 V571.5 L295.5,576.4 H278.5 Q276,576.4 276,573.5 V502.5 Q276,499.7 278.5,499.7 Z" fill="#fff" stroke="#111" stroke-width="1.25"/>
<rect x="275.4" y="507.3" width="2.00" height="64.00" rx="0" fill="#111"/>
<path d="M284.8,500 V576" stroke="#111" stroke-width="1.1" fill="none"/>
<path d="M296.3,503 V573" stroke="#555" stroke-width="0.7" fill="none"/>
<rect x="281.4" y="493.2" width="17.10" height="5.80" rx="2" fill="#111"/>
<rect x="289.2" y="494.5" width="1.60" height="3.50" rx="0" fill="#666"/>
<rect x="283.3" y="494.2" width="4.20" height="1.30" rx="0" fill="#555"/>
<rect x="292.5" y="494.2" width="4.20" height="1.30" rx="0" fill="#555"/>
<rect x="282.1" y="555.7" width="3.70" height="3.00" rx="0" fill="#111"/>
<rect x="302.20" y="536.90" width="3.8" height="2.2" fill="#111"/><rect x="305.40" y="536.15" width="3.9" height="3.7" rx="0.6" fill="#111"/>
<rect x="356.7" y="506.1" width="10.10" height="63.90" rx="0" fill="#fff" stroke="#111" stroke-width="1.25"/>
<rect x="366.7" y="505.7" width="10.80" height="64.70" rx="1" fill="#111"/>
<rect x="366.7" y="505.7" width="8.10" height="64.70" rx="1" fill="#111"/>
<rect x="369.00" y="507.70" width="4.00" height="3.3" rx="0.49" fill="#5e5e5e"/>
<rect x="369.00" y="513.05" width="4.00" height="3.3" rx="0.49" fill="#5e5e5e"/>
<rect x="369.00" y="518.40" width="4.00" height="3.3" rx="0.49" fill="#5e5e5e"/>
<rect x="369.00" y="523.75" width="4.00" height="3.3" rx="0.49" fill="#5e5e5e"/>
<rect x="369.00" y="529.10" width="4.00" height="3.3" rx="0.49" fill="#5e5e5e"/>
<rect x="369.00" y="534.45" width="4.00" height="3.3" rx="0.49" fill="#5e5e5e"/>
<rect x="369.00" y="539.80" width="4.00" height="3.3" rx="0.49" fill="#5e5e5e"/>
<rect x="369.00" y="545.15" width="4.00" height="3.3" rx="0.49" fill="#5e5e5e"/>
<rect x="369.00" y="550.50" width="4.00" height="3.3" rx="0.49" fill="#5e5e5e"/>
<rect x="369.00" y="555.85" width="4.00" height="3.3" rx="0.49" fill="#5e5e5e"/>
<rect x="369.00" y="561.20" width="4.00" height="3.3" rx="0.49" fill="#5e5e5e"/>
<rect x="376.30" y="536.90" width="3.8" height="2.2" fill="#111"/><rect x="379.50" y="536.15" width="3.9" height="3.7" rx="0.6" fill="#111"/>
<rect x="419.6" y="506.1" width="8.60" height="63.90" rx="0" fill="#fff" stroke="#111" stroke-width="1.25"/>
<rect x="428.2" y="505.7" width="7.90" height="64.70" rx="1" fill="#111"/>
<rect x="430.20" y="507.70" width="4.00" height="3.3" rx="0.49" fill="#5e5e5e"/>
<rect x="430.20" y="513.05" width="4.00" height="3.3" rx="0.49" fill="#5e5e5e"/>
<rect x="430.20" y="518.40" width="4.00" height="3.3" rx="0.49" fill="#5e5e5e"/>
<rect x="430.20" y="523.75" width="4.00" height="3.3" rx="0.49" fill="#5e5e5e"/>
<rect x="430.20" y="529.10" width="4.00" height="3.3" rx="0.49" fill="#5e5e5e"/>
<rect x="430.20" y="534.45" width="4.00" height="3.3" rx="0.49" fill="#5e5e5e"/>
<rect x="430.20" y="539.80" width="4.00" height="3.3" rx="0.49" fill="#5e5e5e"/>
<rect x="430.20" y="545.15" width="4.00" height="3.3" rx="0.49" fill="#5e5e5e"/>
<rect x="430.20" y="550.50" width="4.00" height="3.3" rx="0.49" fill="#5e5e5e"/>
<rect x="430.20" y="555.85" width="4.00" height="3.3" rx="0.49" fill="#5e5e5e"/>
<rect x="430.20" y="561.20" width="4.00" height="3.3" rx="0.49" fill="#5e5e5e"/>
<rect x="436.1" y="519.6" width="4.30" height="37.10" rx="0" fill="#fff" stroke="#111" stroke-width="1.25"/>
<rect x="440.10" y="536.90" width="3.8" height="2.2" fill="#111"/><rect x="443.30" y="536.15" width="3.9" height="3.7" rx="0.6" fill="#111"/>
<rect x="498.9" y="523.3" width="4.90" height="29.50" rx="0" fill="#fff" stroke="#111" stroke-width="1.25"/>
<rect x="489" y="521" width="4.00" height="33.80" rx="1" fill="#111"/>
<rect x="492.4" y="519.3" width="6.30" height="37.20" rx="1" fill="#111"/>
<rect x="493.60" y="521.30" width="3.80" height="3.3" rx="0.49" fill="#5e5e5e"/>
<rect x="493.60" y="526.70" width="3.80" height="3.3" rx="0.49" fill="#5e5e5e"/>
<rect x="493.60" y="532.10" width="3.80" height="3.3" rx="0.49" fill="#5e5e5e"/>
<rect x="493.60" y="537.50" width="3.80" height="3.3" rx="0.49" fill="#5e5e5e"/>
<rect x="493.60" y="542.90" width="3.80" height="3.3" rx="0.49" fill="#5e5e5e"/>
<rect x="493.60" y="548.30" width="3.80" height="3.3" rx="0.49" fill="#5e5e5e"/>
<rect x="503.50" y="536.90" width="3.8" height="2.2" fill="#111"/><rect x="506.70" y="536.15" width="3.9" height="3.7" rx="0.6" fill="#111"/>
<rect x="569.9" y="523.6" width="11.10" height="29.00" rx="1" fill="#111"/>
<rect x="571.50" y="525.60" width="0.9" height="0.9" fill="#444"/>
<rect x="573.50" y="525.60" width="0.9" height="0.9" fill="#444"/>
<rect x="575.50" y="525.60" width="0.9" height="0.9" fill="#444"/>
<rect x="577.50" y="525.60" width="0.9" height="0.9" fill="#444"/>
<rect x="579.50" y="525.60" width="0.9" height="0.9" fill="#444"/>
<rect x="572.50" y="526.80" width="0.9" height="0.9" fill="#444"/>
<rect x="574.50" y="526.80" width="0.9" height="0.9" fill="#444"/>
<rect x="576.50" y="526.80" width="0.9" height="0.9" fill="#444"/>
<rect x="578.50" y="526.80" width="0.9" height="0.9" fill="#444"/>
<rect x="571.50" y="528.00" width="0.9" height="0.9" fill="#444"/>
<rect x="573.50" y="528.00" width="0.9" height="0.9" fill="#444"/>
<rect x="575.50" y="528.00" width="0.9" height="0.9" fill="#444"/>
<rect x="577.50" y="528.00" width="0.9" height="0.9" fill="#444"/>
<rect x="579.50" y="528.00" width="0.9" height="0.9" fill="#444"/>
<rect x="572.50" y="529.20" width="0.9" height="0.9" fill="#444"/>
<rect x="574.50" y="529.20" width="0.9" height="0.9" fill="#444"/>
<rect x="576.50" y="529.20" width="0.9" height="0.9" fill="#444"/>
<rect x="578.50" y="529.20" width="0.9" height="0.9" fill="#444"/>
<rect x="571.50" y="530.40" width="0.9" height="0.9" fill="#444"/>
<rect x="573.50" y="530.40" width="0.9" height="0.9" fill="#444"/>
<rect x="575.50" y="530.40" width="0.9" height="0.9" fill="#444"/>
<rect x="577.50" y="530.40" width="0.9" height="0.9" fill="#444"/>
<rect x="579.50" y="530.40" width="0.9" height="0.9" fill="#444"/>
<rect x="572.50" y="531.60" width="0.9" height="0.9" fill="#444"/>
<rect x="574.50" y="531.60" width="0.9" height="0.9" fill="#444"/>
<rect x="576.50" y="531.60" width="0.9" height="0.9" fill="#444"/>
<rect x="578.50" y="531.60" width="0.9" height="0.9" fill="#444"/>
<rect x="571.50" y="532.80" width="0.9" height="0.9" fill="#444"/>
<rect x="573.50" y="532.80" width="0.9" height="0.9" fill="#444"/>
<rect x="575.50" y="532.80" width="0.9" height="0.9" fill="#444"/>
<rect x="577.50" y="532.80" width="0.9" height="0.9" fill="#444"/>
<rect x="579.50" y="532.80" width="0.9" height="0.9" fill="#444"/>
<rect x="572.50" y="534.00" width="0.9" height="0.9" fill="#444"/>
<rect x="574.50" y="534.00" width="0.9" height="0.9" fill="#444"/>
<rect x="576.50" y="534.00" width="0.9" height="0.9" fill="#444"/>
<rect x="578.50" y="534.00" width="0.9" height="0.9" fill="#444"/>
<rect x="571.50" y="535.20" width="0.9" height="0.9" fill="#444"/>
<rect x="573.50" y="535.20" width="0.9" height="0.9" fill="#444"/>
<rect x="575.50" y="535.20" width="0.9" height="0.9" fill="#444"/>
<rect x="577.50" y="535.20" width="0.9" height="0.9" fill="#444"/>
<rect x="579.50" y="535.20" width="0.9" height="0.9" fill="#444"/>
<rect x="572.50" y="536.40" width="0.9" height="0.9" fill="#444"/>
<rect x="574.50" y="536.40" width="0.9" height="0.9" fill="#444"/>
<rect x="576.50" y="536.40" width="0.9" height="0.9" fill="#444"/>
<rect x="578.50" y="536.40" width="0.9" height="0.9" fill="#444"/>
<rect x="571.50" y="537.60" width="0.9" height="0.9" fill="#444"/>
<rect x="573.50" y="537.60" width="0.9" height="0.9" fill="#444"/>
<rect x="575.50" y="537.60" width="0.9" height="0.9" fill="#444"/>
<rect x="577.50" y="537.60" width="0.9" height="0.9" fill="#444"/>
<rect x="579.50" y="537.60" width="0.9" height="0.9" fill="#444"/>
<rect x="572.50" y="538.80" width="0.9" height="0.9" fill="#444"/>
<rect x="574.50" y="538.80" width="0.9" height="0.9" fill="#444"/>
<rect x="576.50" y="538.80" width="0.9" height="0.9" fill="#444"/>
<rect x="578.50" y="538.80" width="0.9" height="0.9" fill="#444"/>
<rect x="571.50" y="540.00" width="0.9" height="0.9" fill="#444"/>
<rect x="573.50" y="540.00" width="0.9" height="0.9" fill="#444"/>
<rect x="575.50" y="540.00" width="0.9" height="0.9" fill="#444"/>
<rect x="577.50" y="540.00" width="0.9" height="0.9" fill="#444"/>
<rect x="579.50" y="540.00" width="0.9" height="0.9" fill="#444"/>
<rect x="572.50" y="541.20" width="0.9" height="0.9" fill="#444"/>
<rect x="574.50" y="541.20" width="0.9" height="0.9" fill="#444"/>
<rect x="576.50" y="541.20" width="0.9" height="0.9" fill="#444"/>
<rect x="578.50" y="541.20" width="0.9" height="0.9" fill="#444"/>
<rect x="571.50" y="542.40" width="0.9" height="0.9" fill="#444"/>
<rect x="573.50" y="542.40" width="0.9" height="0.9" fill="#444"/>
<rect x="575.50" y="542.40" width="0.9" height="0.9" fill="#444"/>
<rect x="577.50" y="542.40" width="0.9" height="0.9" fill="#444"/>
<rect x="579.50" y="542.40" width="0.9" height="0.9" fill="#444"/>
<rect x="572.50" y="543.60" width="0.9" height="0.9" fill="#444"/>
<rect x="574.50" y="543.60" width="0.9" height="0.9" fill="#444"/>
<rect x="576.50" y="543.60" width="0.9" height="0.9" fill="#444"/>
<rect x="578.50" y="543.60" width="0.9" height="0.9" fill="#444"/>
<rect x="571.50" y="544.80" width="0.9" height="0.9" fill="#444"/>
<rect x="573.50" y="544.80" width="0.9" height="0.9" fill="#444"/>
<rect x="575.50" y="544.80" width="0.9" height="0.9" fill="#444"/>
<rect x="577.50" y="544.80" width="0.9" height="0.9" fill="#444"/>
<rect x="579.50" y="544.80" width="0.9" height="0.9" fill="#444"/>
<rect x="572.50" y="546.00" width="0.9" height="0.9" fill="#444"/>
<rect x="574.50" y="546.00" width="0.9" height="0.9" fill="#444"/>
<rect x="576.50" y="546.00" width="0.9" height="0.9" fill="#444"/>
<rect x="578.50" y="546.00" width="0.9" height="0.9" fill="#444"/>
<rect x="571.50" y="547.20" width="0.9" height="0.9" fill="#444"/>
<rect x="573.50" y="547.20" width="0.9" height="0.9" fill="#444"/>
<rect x="575.50" y="547.20" width="0.9" height="0.9" fill="#444"/>
<rect x="577.50" y="547.20" width="0.9" height="0.9" fill="#444"/>
<rect x="579.50" y="547.20" width="0.9" height="0.9" fill="#444"/>
<rect x="572.50" y="548.40" width="0.9" height="0.9" fill="#444"/>
<rect x="574.50" y="548.40" width="0.9" height="0.9" fill="#444"/>
<rect x="576.50" y="548.40" width="0.9" height="0.9" fill="#444"/>
<rect x="578.50" y="548.40" width="0.9" height="0.9" fill="#444"/>
<rect x="571.50" y="549.60" width="0.9" height="0.9" fill="#444"/>
<rect x="573.50" y="549.60" width="0.9" height="0.9" fill="#444"/>
<rect x="575.50" y="549.60" width="0.9" height="0.9" fill="#444"/>
<rect x="577.50" y="549.60" width="0.9" height="0.9" fill="#444"/>
<rect x="579.50" y="549.60" width="0.9" height="0.9" fill="#444"/>
<rect x="572.50" y="550.80" width="0.9" height="0.9" fill="#444"/>
<rect x="574.50" y="550.80" width="0.9" height="0.9" fill="#444"/>
<rect x="576.50" y="550.80" width="0.9" height="0.9" fill="#444"/>
<rect x="578.50" y="550.80" width="0.9" height="0.9" fill="#444"/>
<rect x="580.70" y="536.90" width="3.8" height="2.2" fill="#111"/><rect x="583.90" y="536.15" width="3.9" height="3.7" rx="0.6" fill="#111"/>
<rect x="625.3" y="526.0" width="10.70" height="23.90" rx="1" fill="#111"/>
<rect x="627.50" y="528.00" width="0.9" height="0.9" fill="#aaa"/>
<rect x="629.90" y="528.00" width="0.9" height="0.9" fill="#aaa"/>
<rect x="632.30" y="528.00" width="0.9" height="0.9" fill="#aaa"/>
<rect x="634.70" y="528.00" width="0.9" height="0.9" fill="#aaa"/>
<rect x="628.70" y="529.40" width="0.9" height="0.9" fill="#aaa"/>
<rect x="631.10" y="529.40" width="0.9" height="0.9" fill="#aaa"/>
<rect x="633.50" y="529.40" width="0.9" height="0.9" fill="#aaa"/>
<rect x="627.50" y="530.80" width="0.9" height="0.9" fill="#aaa"/>
<rect x="629.90" y="530.80" width="0.9" height="0.9" fill="#aaa"/>
<rect x="632.30" y="530.80" width="0.9" height="0.9" fill="#aaa"/>
<rect x="634.70" y="530.80" width="0.9" height="0.9" fill="#aaa"/>
<rect x="628.70" y="532.20" width="0.9" height="0.9" fill="#aaa"/>
<rect x="631.10" y="532.20" width="0.9" height="0.9" fill="#aaa"/>
<rect x="633.50" y="532.20" width="0.9" height="0.9" fill="#aaa"/>
<rect x="627.50" y="533.60" width="0.9" height="0.9" fill="#aaa"/>
<rect x="629.90" y="533.60" width="0.9" height="0.9" fill="#aaa"/>
<rect x="632.30" y="533.60" width="0.9" height="0.9" fill="#aaa"/>
<rect x="634.70" y="533.60" width="0.9" height="0.9" fill="#aaa"/>
<rect x="628.70" y="535.00" width="0.9" height="0.9" fill="#aaa"/>
<rect x="631.10" y="535.00" width="0.9" height="0.9" fill="#aaa"/>
<rect x="633.50" y="535.00" width="0.9" height="0.9" fill="#aaa"/>
<rect x="627.50" y="536.40" width="0.9" height="0.9" fill="#aaa"/>
<rect x="629.90" y="536.40" width="0.9" height="0.9" fill="#aaa"/>
<rect x="632.30" y="536.40" width="0.9" height="0.9" fill="#aaa"/>
<rect x="634.70" y="536.40" width="0.9" height="0.9" fill="#aaa"/>
<rect x="628.70" y="537.80" width="0.9" height="0.9" fill="#aaa"/>
<rect x="631.10" y="537.80" width="0.9" height="0.9" fill="#aaa"/>
<rect x="633.50" y="537.80" width="0.9" height="0.9" fill="#aaa"/>
<rect x="627.50" y="539.20" width="0.9" height="0.9" fill="#aaa"/>
<rect x="629.90" y="539.20" width="0.9" height="0.9" fill="#aaa"/>
<rect x="632.30" y="539.20" width="0.9" height="0.9" fill="#aaa"/>
<rect x="634.70" y="539.20" width="0.9" height="0.9" fill="#aaa"/>
<rect x="628.70" y="540.60" width="0.9" height="0.9" fill="#aaa"/>
<rect x="631.10" y="540.60" width="0.9" height="0.9" fill="#aaa"/>
<rect x="633.50" y="540.60" width="0.9" height="0.9" fill="#aaa"/>
<rect x="627.50" y="542.00" width="0.9" height="0.9" fill="#aaa"/>
<rect x="629.90" y="542.00" width="0.9" height="0.9" fill="#aaa"/>
<rect x="632.30" y="542.00" width="0.9" height="0.9" fill="#aaa"/>
<rect x="634.70" y="542.00" width="0.9" height="0.9" fill="#aaa"/>
<rect x="628.70" y="543.40" width="0.9" height="0.9" fill="#aaa"/>
<rect x="631.10" y="543.40" width="0.9" height="0.9" fill="#aaa"/>
<rect x="633.50" y="543.40" width="0.9" height="0.9" fill="#aaa"/>
<rect x="627.50" y="544.80" width="0.9" height="0.9" fill="#aaa"/>
<rect x="629.90" y="544.80" width="0.9" height="0.9" fill="#aaa"/>
<rect x="632.30" y="544.80" width="0.9" height="0.9" fill="#aaa"/>
<rect x="634.70" y="544.80" width="0.9" height="0.9" fill="#aaa"/>
<rect x="628.70" y="546.20" width="0.9" height="0.9" fill="#aaa"/>
<rect x="631.10" y="546.20" width="0.9" height="0.9" fill="#aaa"/>
<rect x="633.50" y="546.20" width="0.9" height="0.9" fill="#aaa"/>
<rect x="627.50" y="547.60" width="0.9" height="0.9" fill="#aaa"/>
<rect x="629.90" y="547.60" width="0.9" height="0.9" fill="#aaa"/>
<rect x="632.30" y="547.60" width="0.9" height="0.9" fill="#aaa"/>
<rect x="634.70" y="547.60" width="0.9" height="0.9" fill="#aaa"/>
<rect x="625.3" y="527.0" width="1.60" height="21.90" rx="0" fill="#111"/>
<rect x="636.0" y="526.7" width="3.00" height="22.50" rx="0" fill="#e8e8e8" stroke="#111" stroke-width="0.9"/>
<rect x="638.996" y="525.5" width="7.70" height="24.90" rx="1" fill="#111"/>
<rect x="640.28" y="527.50" width="4.92" height="1.4" rx="0.21" fill="#e0e0e0"/>
<rect x="640.28" y="530.00" width="4.92" height="1.4" rx="0.21" fill="#e0e0e0"/>
<rect x="640.28" y="532.50" width="4.92" height="1.4" rx="0.21" fill="#e0e0e0"/>
<rect x="640.28" y="535.00" width="4.92" height="1.4" rx="0.21" fill="#e0e0e0"/>
<rect x="640.28" y="537.50" width="4.92" height="1.4" rx="0.21" fill="#e0e0e0"/>
<rect x="640.28" y="540.00" width="4.92" height="1.4" rx="0.21" fill="#e0e0e0"/>
<rect x="640.28" y="542.50" width="4.92" height="1.4" rx="0.21" fill="#e0e0e0"/>
<rect x="640.28" y="545.00" width="4.92" height="1.4" rx="0.21" fill="#e0e0e0"/>
<rect x="646.40" y="536.90" width="3.8" height="2.2" fill="#111"/><rect x="649.60" y="536.15" width="3.9" height="3.7" rx="0.6" fill="#111"/>
<rect x="692.4" y="527.7" width="15.20" height="20.00" rx="0" fill="#fff" stroke="#111" stroke-width="1.25"/>
<rect x="707.6" y="525.5" width="23.60" height="24.90" rx="0.8" fill="#fff" stroke="#111" stroke-width="1.25"/>
<rect x="714.6" y="525.5" width="7.70" height="24.90" fill="#fff" stroke="#111" stroke-width="0.8"/>
<rect x="715.20" y="527.30" width="6.50" height="1.1" fill="#555"/>
<rect x="715.20" y="529.60" width="6.50" height="1.1" fill="#555"/>
<rect x="715.20" y="531.90" width="6.50" height="1.1" fill="#555"/>
<rect x="715.20" y="534.20" width="6.50" height="1.1" fill="#555"/>
<rect x="715.20" y="536.50" width="6.50" height="1.1" fill="#555"/>
<rect x="715.20" y="538.80" width="6.50" height="1.1" fill="#555"/>
<rect x="715.20" y="541.10" width="6.50" height="1.1" fill="#555"/>
<rect x="715.20" y="543.40" width="6.50" height="1.1" fill="#555"/>
<rect x="715.20" y="545.70" width="6.50" height="1.1" fill="#555"/>
<rect x="715.20" y="548.00" width="6.50" height="1.1" fill="#555"/>
<path d="M723.5,525.5 V550.4" stroke="#111" stroke-width="0.8" fill="none"/>
<path d="M726.5,525.5 V550.4" stroke="#111" stroke-width="0.8" fill="none"/>
<rect x="534.5" y="606.9" width="4.00" height="34.00" rx="1" fill="#111"/>
<rect x="538.2" y="603.4" width="8.00" height="40.60" rx="1" fill="#111"/>
<rect x="540.44" y="605.40" width="3.52" height="1.3" rx="0.20" fill="#ddd"/>
<rect x="540.44" y="608.20" width="3.52" height="1.3" rx="0.20" fill="#ddd"/>
<rect x="540.44" y="611.00" width="3.52" height="1.3" rx="0.20" fill="#ddd"/>
<rect x="540.44" y="613.80" width="3.52" height="1.3" rx="0.20" fill="#ddd"/>
<rect x="540.44" y="616.60" width="3.52" height="1.3" rx="0.20" fill="#ddd"/>
<rect x="540.44" y="619.40" width="3.52" height="1.3" rx="0.20" fill="#ddd"/>
<rect x="540.44" y="622.20" width="3.52" height="1.3" rx="0.20" fill="#ddd"/>
<rect x="540.44" y="625.00" width="3.52" height="1.3" rx="0.20" fill="#ddd"/>
<rect x="540.44" y="627.80" width="3.52" height="1.3" rx="0.20" fill="#ddd"/>
<rect x="540.44" y="630.60" width="3.52" height="1.3" rx="0.20" fill="#ddd"/>
<rect x="540.44" y="633.40" width="3.52" height="1.3" rx="0.20" fill="#ddd"/>
<rect x="540.44" y="636.20" width="3.52" height="1.3" rx="0.20" fill="#ddd"/>
<rect x="540.44" y="639.00" width="3.52" height="1.3" rx="0.20" fill="#ddd"/>
<rect x="546" y="607" width="3.80" height="32.30" rx="0" fill="#666" stroke="#111" stroke-width="1.25"/>
<rect x="549.50" y="622.70" width="3.8" height="2.2" fill="#111"/><rect x="552.70" y="621.95" width="3.9" height="3.7" rx="0.6" fill="#111"/>
<rect x="99.4" y="495.1" width="29.40" height="86.30" rx="2" fill="#fff" stroke="#111" stroke-width="1.25"/>
<path d="M104,495.5 V581" stroke="#111" stroke-width="2" fill="none"/>
<rect x="128.8" y="498.4" width="3.70" height="79.30" rx="0" fill="#fff" stroke="#111" stroke-width="1.25"/>
<path d="M131.2,498.4 V577.7" stroke="#111" stroke-width="1.5" fill="none"/>
<rect x="141.8" y="497.5" width="33.20" height="3.00" rx="1" fill="#fff" stroke="#111" stroke-width="1.25"/>
<rect x="132.5" y="500" width="44.80" height="76.80" rx="0" fill="#fff" stroke="#111" stroke-width="1.25"/>
<rect x="177.3" y="507.6" width="4.10" height="63.60" rx="0" fill="#fff" stroke="#111" stroke-width="1.25"/>
<rect x="135.3" y="503" width="20.30" height="19.40" rx="0" fill="#fff" stroke="#111" stroke-width="1.25"/>
<circle cx="145.4" cy="507.3" r="2.2" fill="#111" stroke="#111" stroke-width="0"/>
<circle cx="145.4" cy="519.1" r="2.2" fill="#111" stroke="#111" stroke-width="0"/>
<rect x="104.5" y="558" width="3.50" height="3.50" rx="0" fill="#111"/>
<rect x="129.8" y="554.5" width="3.00" height="5.50" rx="0" fill="#111"/>
<rect x="137.1" y="577.7" width="8.30" height="6.30" rx="0" fill="#fff" stroke="#111" stroke-width="1.25"/>
<rect x="139.5" y="584" width="4.00" height="5.70" rx="0" fill="#fff" stroke="#111" stroke-width="1.25"/>
<rect x="146.4" y="564.4" width="25.40" height="17.90" rx="0" fill="#fff" stroke="#111" stroke-width="1.25"/>
<circle cx="158.9" cy="573.6" r="12.5" fill="#fff" stroke="#111" stroke-width="1.4"/>
<polygon points="686.8,436.4 689.8,430.3 698.4,427.2 713.2,425.4 715.6,424.4 725.5,424.8 728.5,427.2 728.5,431.5 732.8,432.1 737.8,432.7 738.4,437.7 737.8,447.5 735.3,451.2 734.1,453.6 734.1,486.8 731.6,491.7 714.4,493.0 698.4,490.5 695.4,486.8 695.4,446.3 689.8,442.0 687.4,440.1" fill="#fff" stroke="#111" stroke-width="1.3" stroke-linejoin="round"/>
<polyline points="695.8,437.9 706.3,436.4 718.3,436.9 731.3,439.4" fill="none" stroke="#111" stroke-width="1"/>
<polyline points="700.3,438.4 700.3,445.4 703.8,451.9 709.3,453.4" fill="none" stroke="#111" stroke-width="0.9"/>
<path d="M704.3,441.4 q3,-3 7,-2" fill="none" stroke="#111" stroke-width="0.9"/>
<polygon points="710.8,435.4 724.3,434.4 727.8,437.4 727.8,442.9 711.8,443.9" fill="#111"/>
<path d="M712.3,436.9 H726.8" stroke="#666" stroke-width="0.5"/>
<path d="M712.3,438.4 H726.8" stroke="#666" stroke-width="0.5"/>
<path d="M712.3,439.9 H726.8" stroke="#666" stroke-width="0.5"/>
<path d="M712.3,441.4 H726.8" stroke="#666" stroke-width="0.5"/>
<rect x="731.5" y="433.7" width="6.3" height="14" rx="1.5" fill="#fff" stroke="#111" stroke-width="1.1"/>
<rect x="731.5" y="443.4" width="6.3" height="4" fill="#333"/>
<rect x="710.1" y="448.8" width="21.6" height="40.5" rx="3" fill="#fff" stroke="#111" stroke-width="1"/>
<rect x="711.5" y="452.9" width="18.6" height="33.5" rx="2" fill="#fff" stroke="#111" stroke-width="1.1"/>
<path d="M720.5,452.9 V486.4" stroke="#111" stroke-width="0.9"/>
<path d="M732.5,454.4 V488.4" stroke="#222" stroke-width="1.6"/>
<path d="M713.3,486.9 H728.3" stroke="#444" stroke-width="1.6"/>
<path d="M695.8,459.9 Q709.3,466.4 695.8,473.9" fill="#fff" stroke="#111" stroke-width="1.3"/>
<path d="M696.3,461.4 Q703.3,466.4 696.3,472.4 Z" fill="#222"/>
<circle cx="699.4" cy="453.2" r="1.9" fill="#fff" stroke="#111" stroke-width="1"/>
<circle cx="699.4" cy="481.4" r="1.9" fill="#fff" stroke="#111" stroke-width="1"/>
<polygon points="686.8,593.4 689.8,587.3 698.4,584.2 713.2,582.4 715.6,581.4 725.5,581.8 728.5,584.2 728.5,588.5 732.8,589.1 737.8,589.7 738.4,594.7 737.8,604.5 735.3,608.2 734.1,610.6 734.1,643.8 731.6,648.7 714.4,650.0 698.4,647.5 695.4,643.8 695.4,603.3 689.8,599.0 687.4,597.1" fill="#fff" stroke="#111" stroke-width="1.3" stroke-linejoin="round"/>
<polyline points="695.8,594.9 706.3,593.4 718.3,593.9 731.3,596.4" fill="none" stroke="#111" stroke-width="1"/>
<polyline points="700.3,595.4 700.3,602.4 703.8,608.9 709.3,610.4" fill="none" stroke="#111" stroke-width="0.9"/>
<path d="M704.3,598.4 q3,-3 7,-2" fill="none" stroke="#111" stroke-width="0.9"/>
<polygon points="710.8,592.4 724.3,591.4 727.8,594.4 727.8,599.9 711.8,600.9" fill="#111"/>
<path d="M712.3,593.9 H726.8" stroke="#666" stroke-width="0.5"/>
<path d="M712.3,595.4 H726.8" stroke="#666" stroke-width="0.5"/>
<path d="M712.3,596.9 H726.8" stroke="#666" stroke-width="0.5"/>
<path d="M712.3,598.4 H726.8" stroke="#666" stroke-width="0.5"/>
<rect x="731.5" y="590.7" width="6.3" height="14" rx="1.5" fill="#fff" stroke="#111" stroke-width="1.1"/>
<rect x="731.5" y="600.4" width="6.3" height="4" fill="#333"/>
<rect x="710.1" y="605.8" width="21.6" height="40.5" rx="3" fill="#fff" stroke="#111" stroke-width="1"/>
<rect x="711.5" y="609.9" width="18.6" height="33.5" rx="2" fill="#fff" stroke="#111" stroke-width="1.1"/>
<path d="M720.5,609.9 V643.4" stroke="#111" stroke-width="0.9"/>
<path d="M732.5,611.4 V645.4" stroke="#222" stroke-width="1.6"/>
<path d="M713.3,643.9 H728.3" stroke="#444" stroke-width="1.6"/>
<path d="M695.8,616.9 Q709.3,623.4 695.8,630.9" fill="#fff" stroke="#111" stroke-width="1.3"/>
<path d="M696.3,618.4 Q703.3,623.4 696.3,629.4 Z" fill="#222"/>
<circle cx="699.4" cy="610.1999999999999" r="1.9" fill="#fff" stroke="#111" stroke-width="1"/>
<circle cx="699.4" cy="638.4" r="1.9" fill="#fff" stroke="#111" stroke-width="1"/>
<text class="l" font-size="9.3" stroke="#1a1a2a" stroke-width="0.22" x="404.6" y="119.0" textLength="14.4" lengthAdjust="spacingAndGlyphs">71S</text>
<text class="l" font-size="9.3" stroke="#1a1a2a" stroke-width="0.22" x="520.0" y="119.2" textLength="9.9" lengthAdjust="spacingAndGlyphs">27</text>
<text class="l" font-size="9.3" stroke="#1a1a2a" stroke-width="0.22" x="559.6" y="71.3" textLength="9.4" lengthAdjust="spacingAndGlyphs">47</text>
<text class="l" font-size="9.3" stroke="#1a1a2a" stroke-width="0.22" x="636.9" y="127.4" textLength="9.8" lengthAdjust="spacingAndGlyphs">48</text>
<text class="l" font-size="9.3" stroke="#1a1a2a" stroke-width="0.22" x="692.2" y="73.7" textLength="10.2" lengthAdjust="spacingAndGlyphs">47</text>
<text class="l" font-size="9.3" stroke="#1a1a2a" stroke-width="0.22" x="692.2" y="125.2" textLength="9.2" lengthAdjust="spacingAndGlyphs">75</text>
<text class="l" font-size="9.3" stroke="#1a1a2a" stroke-width="0.22" x="589.6" y="186.6" textLength="9.1" lengthAdjust="spacingAndGlyphs">74</text>
<text class="l" font-size="9.3" stroke="#1a1a2a" stroke-width="0.22" x="700.1" y="203.2" textLength="10.5" lengthAdjust="spacingAndGlyphs">47</text>
<text class="l" font-size="9.3" stroke="#1a1a2a" stroke-width="0.22" x="669.1" y="254.0" textLength="9.9" lengthAdjust="spacingAndGlyphs">49</text>
<text class="l" font-size="9.3" stroke="#1a1a2a" stroke-width="0.22" x="432.8" y="254.0" textLength="9.4" lengthAdjust="spacingAndGlyphs">13</text>
<text class="l" font-size="9.3" stroke="#1a1a2a" stroke-width="0.22" x="512.1" y="254.0" textLength="8.4" lengthAdjust="spacingAndGlyphs">14</text>
<text class="l" font-size="9.3" stroke="#1a1a2a" stroke-width="0.22" x="587.3" y="253.8" textLength="9.9" lengthAdjust="spacingAndGlyphs">46</text>
<text class="l" font-size="9.3" stroke="#1a1a2a" stroke-width="0.22" x="400.2" y="321.0" textLength="9.0" lengthAdjust="spacingAndGlyphs">60</text>
<text class="l" font-size="9.3" stroke="#1a1a2a" stroke-width="0.22" x="262.1" y="386.9" textLength="10.0" lengthAdjust="spacingAndGlyphs">8L</text>
<text class="l" font-size="9.3" stroke="#1a1a2a" stroke-width="0.22" x="301.0" y="387.0" textLength="14.1" lengthAdjust="spacingAndGlyphs">70S</text>
<text class="l" font-size="9.3" stroke="#1a1a2a" stroke-width="0.22" x="379.0" y="388.6" textLength="13.7" lengthAdjust="spacingAndGlyphs">71L</text>
<text class="l" font-size="9.3" stroke="#1a1a2a" stroke-width="0.22" x="477.3" y="386.9" textLength="10.0" lengthAdjust="spacingAndGlyphs">13</text>
<text class="l" font-size="9.3" stroke="#1a1a2a" stroke-width="0.22" x="558.9" y="387.8" textLength="9.1" lengthAdjust="spacingAndGlyphs">14</text>
<text class="l" font-size="9.3" stroke="#1a1a2a" stroke-width="0.22" x="614.4" y="388.9" textLength="9.6" lengthAdjust="spacingAndGlyphs">46</text>
<text class="l" font-size="9.3" stroke="#1a1a2a" stroke-width="0.22" x="681.4" y="389.0" textLength="9.9" lengthAdjust="spacingAndGlyphs">47</text>
<text class="l" font-size="9.3" stroke="#1a1a2a" stroke-width="0.22" x="537.6" y="463.0" textLength="9.8" lengthAdjust="spacingAndGlyphs">36</text>
<text class="l" font-size="9.3" stroke="#1a1a2a" stroke-width="0.22" x="640.3" y="464.0" textLength="9.3" lengthAdjust="spacingAndGlyphs">32</text>
<text class="l" font-size="9.3" stroke="#1a1a2a" stroke-width="0.22" x="683.4" y="464.0" textLength="9.8" lengthAdjust="spacingAndGlyphs">34</text>
<text class="l" font-size="9.3" stroke="#1a1a2a" stroke-width="0.22" x="198.4" y="534.0" textLength="10.2" lengthAdjust="spacingAndGlyphs">82</text>
<text class="l" font-size="9.3" stroke="#1a1a2a" stroke-width="0.22" x="262.1" y="535.3" textLength="10.0" lengthAdjust="spacingAndGlyphs">6A</text>
<text class="l" font-size="9.3" stroke="#1a1a2a" stroke-width="0.22" x="340.3" y="535.3" textLength="14.7" lengthAdjust="spacingAndGlyphs">81S</text>
<text class="l" font-size="9.3" stroke="#1a1a2a" stroke-width="0.22" x="407.0" y="535.3" textLength="10.2" lengthAdjust="spacingAndGlyphs">8A</text>
<text class="l" font-size="9.3" stroke="#1a1a2a" stroke-width="0.22" x="472.8" y="535.3" textLength="14.3" lengthAdjust="spacingAndGlyphs">12A</text>
<text class="l" font-size="9.3" stroke="#1a1a2a" stroke-width="0.22" x="559.6" y="534.6" textLength="9.1" lengthAdjust="spacingAndGlyphs">14</text>
<text class="l" font-size="9.3" stroke="#1a1a2a" stroke-width="0.22" x="613.9" y="534.6" textLength="10.2" lengthAdjust="spacingAndGlyphs">46</text>
<text class="l" font-size="9.3" stroke="#1a1a2a" stroke-width="0.22" x="680.4" y="534.6" textLength="9.6" lengthAdjust="spacingAndGlyphs">47</text>
<text class="l" font-size="9.3" stroke="#1a1a2a" stroke-width="0.22" x="521.7" y="619.8" textLength="9.8" lengthAdjust="spacingAndGlyphs">33</text>
<text class="l" font-size="9.3" stroke="#1a1a2a" stroke-width="0.22" x="683.6" y="618.8" textLength="9.6" lengthAdjust="spacingAndGlyphs">34</text>
</svg></body></html>
